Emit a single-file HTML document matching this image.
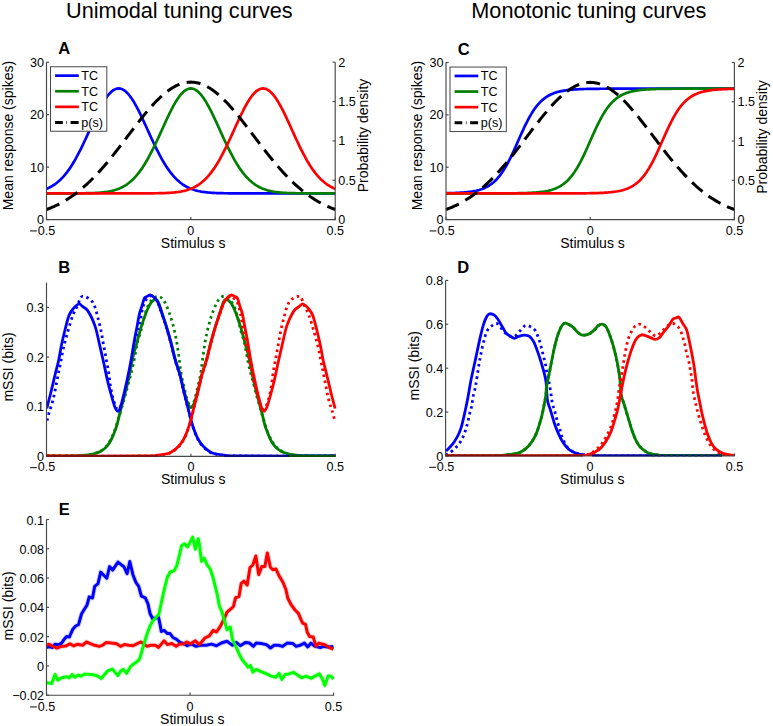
<!DOCTYPE html>
<html><head><meta charset="utf-8"><style>
html,body{margin:0;padding:0;background:#fff;}
svg{display:block;font-family:"Liberation Sans", sans-serif;}
</style></head><body>
<svg width="773" height="726" viewBox="0 0 773 726">
<defs><clipPath id="cB"><rect x="46.5" y="278.6" width="292.8" height="177.7"/></clipPath><clipPath id="cD"><rect x="445.6" y="276.4" width="292.9" height="179.6"/></clipPath><clipPath id="cE"><rect x="46.5" y="515.5" width="291.1" height="179.7"/></clipPath></defs>
<rect width="773" height="726" fill="#fff"/>
<text x="179.4" y="17.6" font-size="21.7" text-anchor="middle" font-weight="normal" fill="#000">Unimodal tuning curves</text>
<text x="588.8" y="17.6" font-size="21.7" text-anchor="middle" font-weight="normal" fill="#000">Monotonic tuning curves</text>
<path d="M46.5,188.76 L47.94,188.15 L49.39,187.48 L50.83,186.73 L52.27,185.92 L53.72,185.02 L55.16,184.04 L56.6,182.96 L58.05,181.8 L59.49,180.53 L60.93,179.17 L62.38,177.69 L63.82,176.11 L65.27,174.41 L66.71,172.6 L68.15,170.67 L69.6,168.63 L71.04,166.47 L72.48,164.19 L73.93,161.8 L75.37,159.3 L76.81,156.69 L78.26,153.98 L79.7,151.18 L81.14,148.29 L82.59,145.32 L84.03,142.29 L85.47,139.2 L86.92,136.07 L88.36,132.9 L89.81,129.72 L91.25,126.54 L92.69,123.38 L94.14,120.25 L95.58,117.17 L97.02,114.16 L98.47,111.23 L99.91,108.42 L101.35,105.72 L102.8,103.16 L104.24,100.76 L105.68,98.54 L107.13,96.5 L108.57,94.67 L110.01,93.05 L111.46,91.66 L112.9,90.51 L114.34,89.61 L115.79,88.96 L117.23,88.56 L118.67,88.43 L120.12,88.56 L121.56,88.96 L123.01,89.61 L124.45,90.51 L125.89,91.66 L127.34,93.05 L128.78,94.67 L130.22,96.5 L131.67,98.54 L133.11,100.76 L134.55,103.16 L136,105.72 L137.44,108.42 L138.88,111.23 L140.33,114.16 L141.77,117.17 L143.21,120.25 L144.66,123.38 L146.1,126.54 L147.54,129.72 L148.99,132.9 L150.43,136.07 L151.88,139.2 L153.32,142.29 L154.76,145.32 L156.21,148.29 L157.65,151.18 L159.09,153.98 L160.54,156.69 L161.98,159.3 L163.42,161.8 L164.87,164.19 L166.31,166.47 L167.75,168.63 L169.2,170.67 L170.64,172.6 L172.08,174.41 L173.53,176.11 L174.97,177.69 L176.41,179.17 L177.86,180.53 L179.3,181.8 L180.75,182.96 L182.19,184.04 L183.63,185.02 L185.08,185.92 L186.52,186.73 L187.96,187.48 L189.41,188.15 L190.85,188.76 L192.29,189.3 L193.74,189.79 L195.18,190.23 L196.62,190.63 L198.07,190.97 L199.51,191.28 L200.95,191.56 L202.4,191.8 L203.84,192.01 L205.28,192.2 L206.73,192.36 L208.17,192.51 L209.62,192.63 L211.06,192.74 L212.5,192.83 L213.95,192.91 L215.39,192.98 L216.83,193.04 L218.28,193.09 L219.72,193.14 L221.16,193.17 L222.61,193.21 L224.05,193.23 L225.49,193.25 L226.94,193.27 L228.38,193.29 L229.82,193.3 L231.27,193.31 L232.71,193.32 L234.16,193.33 L235.6,193.34 L237.04,193.34 L238.49,193.35 L239.93,193.35 L241.37,193.35 L242.82,193.36 L244.26,193.36 L245.7,193.36 L247.15,193.36 L248.59,193.36 L250.03,193.36 L251.48,193.36 L252.92,193.36 L254.36,193.36 L255.81,193.37 L257.25,193.37 L258.69,193.37 L260.14,193.37 L261.58,193.37 L263.02,193.37 L264.47,193.37 L265.91,193.37 L267.36,193.37 L268.8,193.37 L270.24,193.37 L271.69,193.37 L273.13,193.37 L274.57,193.37 L276.02,193.37 L277.46,193.37 L278.9,193.37 L280.35,193.37 L281.79,193.37 L283.23,193.37 L284.68,193.37 L286.12,193.37 L287.56,193.37 L289.01,193.37 L290.45,193.37 L291.89,193.37 L293.34,193.37 L294.78,193.37 L296.23,193.37 L297.67,193.37 L299.11,193.37 L300.56,193.37 L302,193.37 L303.44,193.37 L304.89,193.37 L306.33,193.37 L307.77,193.37 L309.22,193.37 L310.66,193.37 L312.1,193.37 L313.55,193.37 L314.99,193.37 L316.43,193.37 L317.88,193.37 L319.32,193.37 L320.76,193.37 L322.21,193.37 L323.65,193.37 L325.1,193.37 L326.54,193.37 L327.98,193.37 L329.43,193.37 L330.87,193.37 L332.31,193.37 L333.76,193.37 L335.2,193.37" fill="none" stroke="#0000ff" stroke-width="2.7" stroke-linecap="butt" stroke-linejoin="round"/>
<path d="M46.5,193.37 L47.94,193.37 L49.39,193.37 L50.83,193.37 L52.27,193.37 L53.72,193.37 L55.16,193.36 L56.6,193.36 L58.05,193.36 L59.49,193.36 L60.93,193.36 L62.38,193.36 L63.82,193.36 L65.27,193.36 L66.71,193.36 L68.15,193.35 L69.6,193.35 L71.04,193.35 L72.48,193.34 L73.93,193.34 L75.37,193.33 L76.81,193.32 L78.26,193.31 L79.7,193.3 L81.14,193.29 L82.59,193.27 L84.03,193.25 L85.47,193.23 L86.92,193.21 L88.36,193.17 L89.81,193.14 L91.25,193.09 L92.69,193.04 L94.14,192.98 L95.58,192.91 L97.02,192.83 L98.47,192.74 L99.91,192.63 L101.35,192.51 L102.8,192.36 L104.24,192.2 L105.68,192.01 L107.13,191.8 L108.57,191.56 L110.01,191.28 L111.46,190.97 L112.9,190.63 L114.34,190.23 L115.79,189.79 L117.23,189.3 L118.67,188.76 L120.12,188.15 L121.56,187.48 L123.01,186.73 L124.45,185.92 L125.89,185.02 L127.34,184.04 L128.78,182.96 L130.22,181.8 L131.67,180.53 L133.11,179.17 L134.55,177.69 L136,176.11 L137.44,174.41 L138.88,172.6 L140.33,170.67 L141.77,168.63 L143.21,166.47 L144.66,164.19 L146.1,161.8 L147.54,159.3 L148.99,156.69 L150.43,153.98 L151.88,151.18 L153.32,148.29 L154.76,145.32 L156.21,142.29 L157.65,139.2 L159.09,136.07 L160.54,132.9 L161.98,129.72 L163.42,126.54 L164.87,123.38 L166.31,120.25 L167.75,117.17 L169.2,114.16 L170.64,111.23 L172.08,108.42 L173.53,105.72 L174.97,103.16 L176.41,100.76 L177.86,98.54 L179.3,96.5 L180.75,94.67 L182.19,93.05 L183.63,91.66 L185.08,90.51 L186.52,89.61 L187.96,88.96 L189.41,88.56 L190.85,88.43 L192.29,88.56 L193.74,88.96 L195.18,89.61 L196.62,90.51 L198.07,91.66 L199.51,93.05 L200.95,94.67 L202.4,96.5 L203.84,98.54 L205.28,100.76 L206.73,103.16 L208.17,105.72 L209.62,108.42 L211.06,111.23 L212.5,114.16 L213.95,117.17 L215.39,120.25 L216.83,123.38 L218.28,126.54 L219.72,129.72 L221.16,132.9 L222.61,136.07 L224.05,139.2 L225.49,142.29 L226.94,145.32 L228.38,148.29 L229.82,151.18 L231.27,153.98 L232.71,156.69 L234.16,159.3 L235.6,161.8 L237.04,164.19 L238.49,166.47 L239.93,168.63 L241.37,170.67 L242.82,172.6 L244.26,174.41 L245.7,176.11 L247.15,177.69 L248.59,179.17 L250.03,180.53 L251.48,181.8 L252.92,182.96 L254.36,184.04 L255.81,185.02 L257.25,185.92 L258.69,186.73 L260.14,187.48 L261.58,188.15 L263.02,188.76 L264.47,189.3 L265.91,189.79 L267.36,190.23 L268.8,190.63 L270.24,190.97 L271.69,191.28 L273.13,191.56 L274.57,191.8 L276.02,192.01 L277.46,192.2 L278.9,192.36 L280.35,192.51 L281.79,192.63 L283.23,192.74 L284.68,192.83 L286.12,192.91 L287.56,192.98 L289.01,193.04 L290.45,193.09 L291.89,193.14 L293.34,193.17 L294.78,193.21 L296.23,193.23 L297.67,193.25 L299.11,193.27 L300.56,193.29 L302,193.3 L303.44,193.31 L304.89,193.32 L306.33,193.33 L307.77,193.34 L309.22,193.34 L310.66,193.35 L312.1,193.35 L313.55,193.35 L314.99,193.36 L316.43,193.36 L317.88,193.36 L319.32,193.36 L320.76,193.36 L322.21,193.36 L323.65,193.36 L325.1,193.36 L326.54,193.36 L327.98,193.37 L329.43,193.37 L330.87,193.37 L332.31,193.37 L333.76,193.37 L335.2,193.37" fill="none" stroke="#007f00" stroke-width="2.7" stroke-linecap="butt" stroke-linejoin="round"/>
<path d="M46.5,193.37 L47.94,193.37 L49.39,193.37 L50.83,193.37 L52.27,193.37 L53.72,193.37 L55.16,193.37 L56.6,193.37 L58.05,193.37 L59.49,193.37 L60.93,193.37 L62.38,193.37 L63.82,193.37 L65.27,193.37 L66.71,193.37 L68.15,193.37 L69.6,193.37 L71.04,193.37 L72.48,193.37 L73.93,193.37 L75.37,193.37 L76.81,193.37 L78.26,193.37 L79.7,193.37 L81.14,193.37 L82.59,193.37 L84.03,193.37 L85.47,193.37 L86.92,193.37 L88.36,193.37 L89.81,193.37 L91.25,193.37 L92.69,193.37 L94.14,193.37 L95.58,193.37 L97.02,193.37 L98.47,193.37 L99.91,193.37 L101.35,193.37 L102.8,193.37 L104.24,193.37 L105.68,193.37 L107.13,193.37 L108.57,193.37 L110.01,193.37 L111.46,193.37 L112.9,193.37 L114.34,193.37 L115.79,193.37 L117.23,193.37 L118.67,193.37 L120.12,193.37 L121.56,193.37 L123.01,193.37 L124.45,193.37 L125.89,193.37 L127.34,193.36 L128.78,193.36 L130.22,193.36 L131.67,193.36 L133.11,193.36 L134.55,193.36 L136,193.36 L137.44,193.36 L138.88,193.36 L140.33,193.35 L141.77,193.35 L143.21,193.35 L144.66,193.34 L146.1,193.34 L147.54,193.33 L148.99,193.32 L150.43,193.31 L151.88,193.3 L153.32,193.29 L154.76,193.27 L156.21,193.25 L157.65,193.23 L159.09,193.21 L160.54,193.17 L161.98,193.14 L163.42,193.09 L164.87,193.04 L166.31,192.98 L167.75,192.91 L169.2,192.83 L170.64,192.74 L172.08,192.63 L173.53,192.51 L174.97,192.36 L176.41,192.2 L177.86,192.01 L179.3,191.8 L180.75,191.56 L182.19,191.28 L183.63,190.97 L185.08,190.63 L186.52,190.23 L187.96,189.79 L189.41,189.3 L190.85,188.76 L192.29,188.15 L193.74,187.48 L195.18,186.73 L196.62,185.92 L198.07,185.02 L199.51,184.04 L200.95,182.96 L202.4,181.8 L203.84,180.53 L205.28,179.17 L206.73,177.69 L208.17,176.11 L209.62,174.41 L211.06,172.6 L212.5,170.67 L213.95,168.63 L215.39,166.47 L216.83,164.19 L218.28,161.8 L219.72,159.3 L221.16,156.69 L222.61,153.98 L224.05,151.18 L225.49,148.29 L226.94,145.32 L228.38,142.29 L229.82,139.2 L231.27,136.07 L232.71,132.9 L234.16,129.72 L235.6,126.54 L237.04,123.38 L238.49,120.25 L239.93,117.17 L241.37,114.16 L242.82,111.23 L244.26,108.42 L245.7,105.72 L247.15,103.16 L248.59,100.76 L250.03,98.54 L251.48,96.5 L252.92,94.67 L254.36,93.05 L255.81,91.66 L257.25,90.51 L258.69,89.61 L260.14,88.96 L261.58,88.56 L263.02,88.43 L264.47,88.56 L265.91,88.96 L267.36,89.61 L268.8,90.51 L270.24,91.66 L271.69,93.05 L273.13,94.67 L274.57,96.5 L276.02,98.54 L277.46,100.76 L278.9,103.16 L280.35,105.72 L281.79,108.42 L283.23,111.23 L284.68,114.16 L286.12,117.17 L287.56,120.25 L289.01,123.38 L290.45,126.54 L291.89,129.72 L293.34,132.9 L294.78,136.07 L296.23,139.2 L297.67,142.29 L299.11,145.32 L300.56,148.29 L302,151.18 L303.44,153.98 L304.89,156.69 L306.33,159.3 L307.77,161.8 L309.22,164.19 L310.66,166.47 L312.1,168.63 L313.55,170.67 L314.99,172.6 L316.43,174.41 L317.88,176.11 L319.32,177.69 L320.76,179.17 L322.21,180.53 L323.65,181.8 L325.1,182.96 L326.54,184.04 L327.98,185.02 L329.43,185.92 L330.87,186.73 L332.31,187.48 L333.76,188.15 L335.2,188.76" fill="none" stroke="#ff0000" stroke-width="2.7" stroke-linecap="butt" stroke-linejoin="round"/>
<path d="M46.5,209.52 L47.94,208.99 L49.39,208.43 L50.83,207.84 L52.27,207.23 L53.72,206.6 L55.16,205.94 L56.6,205.26 L58.05,204.55 L59.49,203.81 L60.93,203.05 L62.38,202.25 L63.82,201.43 L65.27,200.58 L66.71,199.7 L68.15,198.79 L69.6,197.85 L71.04,196.88 L72.48,195.88 L73.93,194.85 L75.37,193.79 L76.81,192.69 L78.26,191.56 L79.7,190.4 L81.14,189.21 L82.59,187.99 L84.03,186.73 L85.47,185.45 L86.92,184.13 L88.36,182.78 L89.81,181.4 L91.25,179.98 L92.69,178.54 L94.14,177.06 L95.58,175.56 L97.02,174.02 L98.47,172.46 L99.91,170.87 L101.35,169.25 L102.8,167.61 L104.24,165.94 L105.68,164.24 L107.13,162.52 L108.57,160.78 L110.01,159.02 L111.46,157.24 L112.9,155.43 L114.34,153.61 L115.79,151.78 L117.23,149.93 L118.67,148.07 L120.12,146.19 L121.56,144.31 L123.01,142.41 L124.45,140.51 L125.89,138.61 L127.34,136.7 L128.78,134.8 L130.22,132.89 L131.67,130.99 L133.11,129.1 L134.55,127.21 L136,125.33 L137.44,123.46 L138.88,121.61 L140.33,119.78 L141.77,117.96 L143.21,116.17 L144.66,114.39 L146.1,112.65 L147.54,110.93 L148.99,109.24 L150.43,107.58 L151.88,105.96 L153.32,104.38 L154.76,102.83 L156.21,101.33 L157.65,99.86 L159.09,98.45 L160.54,97.08 L161.98,95.76 L163.42,94.49 L164.87,93.27 L166.31,92.11 L167.75,91.01 L169.2,89.96 L170.64,88.98 L172.08,88.05 L173.53,87.19 L174.97,86.39 L176.41,85.66 L177.86,84.99 L179.3,84.39 L180.75,83.86 L182.19,83.4 L183.63,83.01 L185.08,82.68 L186.52,82.43 L187.96,82.25 L189.41,82.15 L190.85,82.11 L192.29,82.15 L193.74,82.25 L195.18,82.43 L196.62,82.68 L198.07,83.01 L199.51,83.4 L200.95,83.86 L202.4,84.39 L203.84,84.99 L205.28,85.66 L206.73,86.39 L208.17,87.19 L209.62,88.05 L211.06,88.98 L212.5,89.96 L213.95,91.01 L215.39,92.11 L216.83,93.27 L218.28,94.49 L219.72,95.76 L221.16,97.08 L222.61,98.45 L224.05,99.86 L225.49,101.33 L226.94,102.83 L228.38,104.38 L229.82,105.96 L231.27,107.58 L232.71,109.24 L234.16,110.93 L235.6,112.65 L237.04,114.39 L238.49,116.17 L239.93,117.96 L241.37,119.78 L242.82,121.61 L244.26,123.46 L245.7,125.33 L247.15,127.21 L248.59,129.1 L250.03,130.99 L251.48,132.89 L252.92,134.8 L254.36,136.7 L255.81,138.61 L257.25,140.51 L258.69,142.41 L260.14,144.31 L261.58,146.19 L263.02,148.07 L264.47,149.93 L265.91,151.78 L267.36,153.61 L268.8,155.43 L270.24,157.24 L271.69,159.02 L273.13,160.78 L274.57,162.52 L276.02,164.24 L277.46,165.94 L278.9,167.61 L280.35,169.25 L281.79,170.87 L283.23,172.46 L284.68,174.02 L286.12,175.56 L287.56,177.06 L289.01,178.54 L290.45,179.98 L291.89,181.4 L293.34,182.78 L294.78,184.13 L296.23,185.45 L297.67,186.73 L299.11,187.99 L300.56,189.21 L302,190.4 L303.44,191.56 L304.89,192.69 L306.33,193.79 L307.77,194.85 L309.22,195.88 L310.66,196.88 L312.1,197.85 L313.55,198.79 L314.99,199.7 L316.43,200.58 L317.88,201.43 L319.32,202.25 L320.76,203.05 L322.21,203.81 L323.65,204.55 L325.1,205.26 L326.54,205.94 L327.98,206.6 L329.43,207.23 L330.87,207.84 L332.31,208.43 L333.76,208.99 L335.2,209.52" fill="none" stroke="#000" stroke-width="3.0" stroke-linecap="butt" stroke-linejoin="round" stroke-dasharray="14 7.4"/>
<path d="M446,193.21 L447.44,193.19 L448.88,193.16 L450.33,193.12 L451.77,193.08 L453.21,193.04 L454.65,192.99 L456.09,192.93 L457.54,192.87 L458.98,192.8 L460.42,192.72 L461.86,192.62 L463.3,192.52 L464.75,192.4 L466.19,192.27 L467.63,192.11 L469.07,191.94 L470.51,191.75 L471.96,191.53 L473.4,191.29 L474.84,191.01 L476.28,190.7 L477.72,190.35 L479.17,189.95 L480.61,189.51 L482.05,189.01 L483.49,188.45 L484.93,187.82 L486.38,187.12 L487.82,186.34 L489.26,185.47 L490.7,184.5 L492.14,183.43 L493.59,182.24 L495.03,180.93 L496.47,179.49 L497.91,177.91 L499.35,176.19 L500.8,174.31 L502.24,172.28 L503.68,170.09 L505.12,167.75 L506.56,165.25 L508.01,162.6 L509.45,159.82 L510.89,156.9 L512.33,153.88 L513.77,150.76 L515.22,147.56 L516.66,144.32 L518.1,141.05 L519.54,137.78 L520.98,134.54 L522.43,131.34 L523.87,128.22 L525.31,125.2 L526.75,122.28 L528.19,119.5 L529.64,116.85 L531.08,114.35 L532.52,112.01 L533.96,109.82 L535.4,107.79 L536.85,105.91 L538.29,104.19 L539.73,102.61 L541.17,101.17 L542.61,99.86 L544.06,98.67 L545.5,97.6 L546.94,96.63 L548.38,95.76 L549.82,94.98 L551.27,94.28 L552.71,93.65 L554.15,93.09 L555.59,92.59 L557.03,92.15 L558.48,91.75 L559.92,91.4 L561.36,91.09 L562.8,90.81 L564.24,90.57 L565.69,90.35 L567.13,90.16 L568.57,89.99 L570.01,89.83 L571.45,89.7 L572.9,89.58 L574.34,89.48 L575.78,89.38 L577.22,89.3 L578.66,89.23 L580.11,89.17 L581.55,89.11 L582.99,89.06 L584.43,89.02 L585.87,88.98 L587.32,88.94 L588.76,88.91 L590.2,88.89 L591.64,88.86 L593.08,88.84 L594.53,88.82 L595.97,88.81 L597.41,88.79 L598.85,88.78 L600.29,88.77 L601.74,88.76 L603.18,88.75 L604.62,88.74 L606.06,88.73 L607.5,88.73 L608.95,88.72 L610.39,88.72 L611.83,88.71 L613.27,88.71 L614.71,88.71 L616.16,88.7 L617.6,88.7 L619.04,88.7 L620.48,88.7 L621.92,88.7 L623.37,88.69 L624.81,88.69 L626.25,88.69 L627.69,88.69 L629.13,88.69 L630.58,88.69 L632.02,88.69 L633.46,88.69 L634.9,88.69 L636.34,88.69 L637.79,88.69 L639.23,88.69 L640.67,88.69 L642.11,88.69 L643.55,88.69 L645,88.69 L646.44,88.68 L647.88,88.68 L649.32,88.68 L650.76,88.68 L652.21,88.68 L653.65,88.68 L655.09,88.68 L656.53,88.68 L657.97,88.68 L659.42,88.68 L660.86,88.68 L662.3,88.68 L663.74,88.68 L665.18,88.68 L666.63,88.68 L668.07,88.68 L669.51,88.68 L670.95,88.68 L672.39,88.68 L673.84,88.68 L675.28,88.68 L676.72,88.68 L678.16,88.68 L679.6,88.68 L681.05,88.68 L682.49,88.68 L683.93,88.68 L685.37,88.68 L686.81,88.68 L688.26,88.68 L689.7,88.68 L691.14,88.68 L692.58,88.68 L694.02,88.68 L695.47,88.68 L696.91,88.68 L698.35,88.68 L699.79,88.68 L701.23,88.68 L702.68,88.68 L704.12,88.68 L705.56,88.68 L707,88.68 L708.44,88.68 L709.89,88.68 L711.33,88.68 L712.77,88.68 L714.21,88.68 L715.65,88.68 L717.1,88.68 L718.54,88.68 L719.98,88.68 L721.42,88.68 L722.86,88.68 L724.31,88.68 L725.75,88.68 L727.19,88.68 L728.63,88.68 L730.07,88.68 L731.52,88.68 L732.96,88.68 L734.4,88.68" fill="none" stroke="#0000ff" stroke-width="2.7" stroke-linecap="butt" stroke-linejoin="round"/>
<path d="M446,193.42 L447.44,193.42 L448.88,193.42 L450.33,193.42 L451.77,193.42 L453.21,193.42 L454.65,193.42 L456.09,193.42 L457.54,193.42 L458.98,193.42 L460.42,193.42 L461.86,193.42 L463.3,193.41 L464.75,193.41 L466.19,193.41 L467.63,193.41 L469.07,193.41 L470.51,193.41 L471.96,193.41 L473.4,193.41 L474.84,193.41 L476.28,193.41 L477.72,193.41 L479.17,193.41 L480.61,193.41 L482.05,193.41 L483.49,193.41 L484.93,193.41 L486.38,193.4 L487.82,193.4 L489.26,193.4 L490.7,193.4 L492.14,193.4 L493.59,193.39 L495.03,193.39 L496.47,193.39 L497.91,193.38 L499.35,193.38 L500.8,193.37 L502.24,193.37 L503.68,193.36 L505.12,193.35 L506.56,193.34 L508.01,193.33 L509.45,193.32 L510.89,193.31 L512.33,193.29 L513.77,193.28 L515.22,193.26 L516.66,193.24 L518.1,193.21 L519.54,193.19 L520.98,193.16 L522.43,193.12 L523.87,193.08 L525.31,193.04 L526.75,192.99 L528.19,192.93 L529.64,192.87 L531.08,192.8 L532.52,192.72 L533.96,192.62 L535.4,192.52 L536.85,192.4 L538.29,192.27 L539.73,192.11 L541.17,191.94 L542.61,191.75 L544.06,191.53 L545.5,191.29 L546.94,191.01 L548.38,190.7 L549.82,190.35 L551.27,189.95 L552.71,189.51 L554.15,189.01 L555.59,188.45 L557.03,187.82 L558.48,187.12 L559.92,186.34 L561.36,185.47 L562.8,184.5 L564.24,183.43 L565.69,182.24 L567.13,180.93 L568.57,179.49 L570.01,177.91 L571.45,176.19 L572.9,174.31 L574.34,172.28 L575.78,170.09 L577.22,167.75 L578.66,165.25 L580.11,162.6 L581.55,159.82 L582.99,156.9 L584.43,153.88 L585.87,150.76 L587.32,147.56 L588.76,144.32 L590.2,141.05 L591.64,137.78 L593.08,134.54 L594.53,131.34 L595.97,128.22 L597.41,125.2 L598.85,122.28 L600.29,119.5 L601.74,116.85 L603.18,114.35 L604.62,112.01 L606.06,109.82 L607.5,107.79 L608.95,105.91 L610.39,104.19 L611.83,102.61 L613.27,101.17 L614.71,99.86 L616.16,98.67 L617.6,97.6 L619.04,96.63 L620.48,95.76 L621.92,94.98 L623.37,94.28 L624.81,93.65 L626.25,93.09 L627.69,92.59 L629.13,92.15 L630.58,91.75 L632.02,91.4 L633.46,91.09 L634.9,90.81 L636.34,90.57 L637.79,90.35 L639.23,90.16 L640.67,89.99 L642.11,89.83 L643.55,89.7 L645,89.58 L646.44,89.48 L647.88,89.38 L649.32,89.3 L650.76,89.23 L652.21,89.17 L653.65,89.11 L655.09,89.06 L656.53,89.02 L657.97,88.98 L659.42,88.94 L660.86,88.91 L662.3,88.89 L663.74,88.86 L665.18,88.84 L666.63,88.82 L668.07,88.81 L669.51,88.79 L670.95,88.78 L672.39,88.77 L673.84,88.76 L675.28,88.75 L676.72,88.74 L678.16,88.73 L679.6,88.73 L681.05,88.72 L682.49,88.72 L683.93,88.71 L685.37,88.71 L686.81,88.71 L688.26,88.7 L689.7,88.7 L691.14,88.7 L692.58,88.7 L694.02,88.7 L695.47,88.69 L696.91,88.69 L698.35,88.69 L699.79,88.69 L701.23,88.69 L702.68,88.69 L704.12,88.69 L705.56,88.69 L707,88.69 L708.44,88.69 L709.89,88.69 L711.33,88.69 L712.77,88.69 L714.21,88.69 L715.65,88.69 L717.1,88.69 L718.54,88.68 L719.98,88.68 L721.42,88.68 L722.86,88.68 L724.31,88.68 L725.75,88.68 L727.19,88.68 L728.63,88.68 L730.07,88.68 L731.52,88.68 L732.96,88.68 L734.4,88.68" fill="none" stroke="#007f00" stroke-width="2.7" stroke-linecap="butt" stroke-linejoin="round"/>
<path d="M446,193.42 L447.44,193.42 L448.88,193.42 L450.33,193.42 L451.77,193.42 L453.21,193.42 L454.65,193.42 L456.09,193.42 L457.54,193.42 L458.98,193.42 L460.42,193.42 L461.86,193.42 L463.3,193.42 L464.75,193.42 L466.19,193.42 L467.63,193.42 L469.07,193.42 L470.51,193.42 L471.96,193.42 L473.4,193.42 L474.84,193.42 L476.28,193.42 L477.72,193.42 L479.17,193.42 L480.61,193.42 L482.05,193.42 L483.49,193.42 L484.93,193.42 L486.38,193.42 L487.82,193.42 L489.26,193.42 L490.7,193.42 L492.14,193.42 L493.59,193.42 L495.03,193.42 L496.47,193.42 L497.91,193.42 L499.35,193.42 L500.8,193.42 L502.24,193.42 L503.68,193.42 L505.12,193.42 L506.56,193.42 L508.01,193.42 L509.45,193.42 L510.89,193.42 L512.33,193.42 L513.77,193.42 L515.22,193.42 L516.66,193.42 L518.1,193.42 L519.54,193.42 L520.98,193.42 L522.43,193.42 L523.87,193.42 L525.31,193.42 L526.75,193.42 L528.19,193.42 L529.64,193.42 L531.08,193.42 L532.52,193.42 L533.96,193.42 L535.4,193.41 L536.85,193.41 L538.29,193.41 L539.73,193.41 L541.17,193.41 L542.61,193.41 L544.06,193.41 L545.5,193.41 L546.94,193.41 L548.38,193.41 L549.82,193.41 L551.27,193.41 L552.71,193.41 L554.15,193.41 L555.59,193.41 L557.03,193.41 L558.48,193.4 L559.92,193.4 L561.36,193.4 L562.8,193.4 L564.24,193.4 L565.69,193.39 L567.13,193.39 L568.57,193.39 L570.01,193.38 L571.45,193.38 L572.9,193.37 L574.34,193.37 L575.78,193.36 L577.22,193.35 L578.66,193.34 L580.11,193.33 L581.55,193.32 L582.99,193.31 L584.43,193.29 L585.87,193.28 L587.32,193.26 L588.76,193.24 L590.2,193.21 L591.64,193.19 L593.08,193.16 L594.53,193.12 L595.97,193.08 L597.41,193.04 L598.85,192.99 L600.29,192.93 L601.74,192.87 L603.18,192.8 L604.62,192.72 L606.06,192.62 L607.5,192.52 L608.95,192.4 L610.39,192.27 L611.83,192.11 L613.27,191.94 L614.71,191.75 L616.16,191.53 L617.6,191.29 L619.04,191.01 L620.48,190.7 L621.92,190.35 L623.37,189.95 L624.81,189.51 L626.25,189.01 L627.69,188.45 L629.13,187.82 L630.58,187.12 L632.02,186.34 L633.46,185.47 L634.9,184.5 L636.34,183.43 L637.79,182.24 L639.23,180.93 L640.67,179.49 L642.11,177.91 L643.55,176.19 L645,174.31 L646.44,172.28 L647.88,170.09 L649.32,167.75 L650.76,165.25 L652.21,162.6 L653.65,159.82 L655.09,156.9 L656.53,153.88 L657.97,150.76 L659.42,147.56 L660.86,144.32 L662.3,141.05 L663.74,137.78 L665.18,134.54 L666.63,131.34 L668.07,128.22 L669.51,125.2 L670.95,122.28 L672.39,119.5 L673.84,116.85 L675.28,114.35 L676.72,112.01 L678.16,109.82 L679.6,107.79 L681.05,105.91 L682.49,104.19 L683.93,102.61 L685.37,101.17 L686.81,99.86 L688.26,98.67 L689.7,97.6 L691.14,96.63 L692.58,95.76 L694.02,94.98 L695.47,94.28 L696.91,93.65 L698.35,93.09 L699.79,92.59 L701.23,92.15 L702.68,91.75 L704.12,91.4 L705.56,91.09 L707,90.81 L708.44,90.57 L709.89,90.35 L711.33,90.16 L712.77,89.99 L714.21,89.83 L715.65,89.7 L717.1,89.58 L718.54,89.48 L719.98,89.38 L721.42,89.3 L722.86,89.23 L724.31,89.17 L725.75,89.11 L727.19,89.06 L728.63,89.02 L730.07,88.98 L731.52,88.94 L732.96,88.91 L734.4,88.89" fill="none" stroke="#ff0000" stroke-width="2.7" stroke-linecap="butt" stroke-linejoin="round"/>
<path d="M446,209.54 L447.44,209.01 L448.88,208.45 L450.33,207.86 L451.77,207.26 L453.21,206.63 L454.65,205.97 L456.09,205.29 L457.54,204.58 L458.98,203.84 L460.42,203.08 L461.86,202.29 L463.3,201.47 L464.75,200.62 L466.19,199.74 L467.63,198.83 L469.07,197.89 L470.51,196.93 L471.96,195.93 L473.4,194.9 L474.84,193.83 L476.28,192.74 L477.72,191.62 L479.17,190.46 L480.61,189.27 L482.05,188.05 L483.49,186.8 L484.93,185.51 L486.38,184.2 L487.82,182.85 L489.26,181.47 L490.7,180.06 L492.14,178.62 L493.59,177.14 L495.03,175.64 L496.47,174.11 L497.91,172.55 L499.35,170.96 L500.8,169.35 L502.24,167.71 L503.68,166.04 L505.12,164.35 L506.56,162.63 L508.01,160.89 L509.45,159.14 L510.89,157.36 L512.33,155.56 L513.77,153.74 L515.22,151.91 L516.66,150.06 L518.1,148.2 L519.54,146.33 L520.98,144.45 L522.43,142.56 L523.87,140.66 L525.31,138.76 L526.75,136.86 L528.19,134.96 L529.64,133.06 L531.08,131.16 L532.52,129.27 L533.96,127.38 L535.4,125.51 L536.85,123.65 L538.29,121.8 L539.73,119.97 L541.17,118.15 L542.61,116.36 L544.06,114.59 L545.5,112.85 L546.94,111.14 L548.38,109.45 L549.82,107.8 L551.27,106.18 L552.71,104.6 L554.15,103.05 L555.59,101.55 L557.03,100.09 L558.48,98.68 L559.92,97.31 L561.36,95.99 L562.8,94.73 L564.24,93.51 L565.69,92.36 L567.13,91.25 L568.57,90.21 L570.01,89.23 L571.45,88.3 L572.9,87.44 L574.34,86.64 L575.78,85.91 L577.22,85.25 L578.66,84.65 L580.11,84.12 L581.55,83.66 L582.99,83.27 L584.43,82.95 L585.87,82.7 L587.32,82.52 L588.76,82.41 L590.2,82.37 L591.64,82.41 L593.08,82.52 L594.53,82.7 L595.97,82.95 L597.41,83.27 L598.85,83.66 L600.29,84.12 L601.74,84.65 L603.18,85.25 L604.62,85.91 L606.06,86.64 L607.5,87.44 L608.95,88.3 L610.39,89.23 L611.83,90.21 L613.27,91.25 L614.71,92.36 L616.16,93.51 L617.6,94.73 L619.04,95.99 L620.48,97.31 L621.92,98.68 L623.37,100.09 L624.81,101.55 L626.25,103.05 L627.69,104.6 L629.13,106.18 L630.58,107.8 L632.02,109.45 L633.46,111.14 L634.9,112.85 L636.34,114.59 L637.79,116.36 L639.23,118.15 L640.67,119.97 L642.11,121.8 L643.55,123.65 L645,125.51 L646.44,127.38 L647.88,129.27 L649.32,131.16 L650.76,133.06 L652.21,134.96 L653.65,136.86 L655.09,138.76 L656.53,140.66 L657.97,142.56 L659.42,144.45 L660.86,146.33 L662.3,148.2 L663.74,150.06 L665.18,151.91 L666.63,153.74 L668.07,155.56 L669.51,157.36 L670.95,159.14 L672.39,160.89 L673.84,162.63 L675.28,164.35 L676.72,166.04 L678.16,167.71 L679.6,169.35 L681.05,170.96 L682.49,172.55 L683.93,174.11 L685.37,175.64 L686.81,177.14 L688.26,178.62 L689.7,180.06 L691.14,181.47 L692.58,182.85 L694.02,184.2 L695.47,185.51 L696.91,186.8 L698.35,188.05 L699.79,189.27 L701.23,190.46 L702.68,191.62 L704.12,192.74 L705.56,193.83 L707,194.9 L708.44,195.93 L709.89,196.93 L711.33,197.89 L712.77,198.83 L714.21,199.74 L715.65,200.62 L717.1,201.47 L718.54,202.29 L719.98,203.08 L721.42,203.84 L722.86,204.58 L724.31,205.29 L725.75,205.97 L727.19,206.63 L728.63,207.26 L730.07,207.86 L731.52,208.45 L732.96,209.01 L734.4,209.54" fill="none" stroke="#000" stroke-width="3.0" stroke-linecap="butt" stroke-linejoin="round" stroke-dasharray="14 7.4"/>
<line x1="46.5" y1="62.2" x2="46.5" y2="219.6" stroke="#474747" stroke-width="1.15"/>
<line x1="45.95" y1="219.6" x2="335.75" y2="219.6" stroke="#474747" stroke-width="1.15"/>
<line x1="335.2" y1="62.2" x2="335.2" y2="219.6" stroke="#474747" stroke-width="1.15"/>
<line x1="46.5" y1="219.6" x2="46.5" y2="217" stroke="#474747" stroke-width="1.15"/>
<line x1="190.85" y1="219.6" x2="190.85" y2="217" stroke="#474747" stroke-width="1.15"/>
<line x1="335.2" y1="219.6" x2="335.2" y2="217" stroke="#474747" stroke-width="1.15"/>
<line x1="46.5" y1="219.6" x2="49.1" y2="219.6" stroke="#474747" stroke-width="1.15"/>
<text x="44.1" y="224.2" font-size="12.6" text-anchor="end" font-weight="normal" fill="#000">0</text>
<line x1="46.5" y1="167.13" x2="49.1" y2="167.13" stroke="#474747" stroke-width="1.15"/>
<text x="44.1" y="171.73" font-size="12.6" text-anchor="end" font-weight="normal" fill="#000">10</text>
<line x1="46.5" y1="114.67" x2="49.1" y2="114.67" stroke="#474747" stroke-width="1.15"/>
<text x="44.1" y="119.27" font-size="12.6" text-anchor="end" font-weight="normal" fill="#000">20</text>
<line x1="46.5" y1="62.2" x2="49.1" y2="62.2" stroke="#474747" stroke-width="1.15"/>
<text x="44.1" y="66.8" font-size="12.6" text-anchor="end" font-weight="normal" fill="#000">30</text>
<line x1="335.2" y1="219.6" x2="332.6" y2="219.6" stroke="#474747" stroke-width="1.15"/>
<text x="338.2" y="224.1" font-size="12.6" text-anchor="start" font-weight="normal" fill="#000">0</text>
<line x1="335.2" y1="180.25" x2="332.6" y2="180.25" stroke="#474747" stroke-width="1.15"/>
<text x="338.2" y="184.75" font-size="12.6" text-anchor="start" font-weight="normal" fill="#000">0.5</text>
<line x1="335.2" y1="140.9" x2="332.6" y2="140.9" stroke="#474747" stroke-width="1.15"/>
<text x="338.2" y="145.4" font-size="12.6" text-anchor="start" font-weight="normal" fill="#000">1</text>
<line x1="335.2" y1="101.55" x2="332.6" y2="101.55" stroke="#474747" stroke-width="1.15"/>
<text x="338.2" y="106.05" font-size="12.6" text-anchor="start" font-weight="normal" fill="#000">1.5</text>
<line x1="335.2" y1="62.2" x2="332.6" y2="62.2" stroke="#474747" stroke-width="1.15"/>
<text x="338.2" y="66.7" font-size="12.6" text-anchor="start" font-weight="normal" fill="#000">2</text>
<text x="46.5" y="234.5" font-size="12.6" text-anchor="middle" font-weight="normal" fill="#000">0.5</text>
<rect x="30.14" y="230.4" width="6.7" height="1.05" fill="#111"/>
<text x="190.85" y="234.5" font-size="12.6" text-anchor="middle" font-weight="normal" fill="#000">0</text>
<text x="335.2" y="234.5" font-size="12.6" text-anchor="middle" font-weight="normal" fill="#000">0.5</text>
<text x="193.15" y="247.6" font-size="14" text-anchor="middle" font-weight="normal" fill="#000">Stimulus s</text>
<text x="12.9" y="135.6" font-size="14" text-anchor="middle" font-weight="normal" fill="#000" transform="rotate(-90 12.9 135.6)">Mean response (spikes)</text>
<text x="367.8" y="135.5" font-size="14" text-anchor="middle" font-weight="normal" fill="#000" transform="rotate(-90 367.8 135.5)">Probability density</text>
<text x="64.2" y="54.2" font-size="16.5" text-anchor="middle" font-weight="bold" fill="#000">A</text>
<rect x="50.5" y="66.75" width="56.3" height="64.5" fill="#fff" stroke="#474747" stroke-width="1"/>
<line x1="55.1" y1="75.65" x2="78.8" y2="75.65" stroke="#0000ff" stroke-width="2.7"/>
<text x="81.3" y="80.15" font-size="12.6" text-anchor="start" font-weight="normal" fill="#000">TC</text>
<line x1="55.1" y1="91.25" x2="78.8" y2="91.25" stroke="#007f00" stroke-width="2.7"/>
<text x="81.3" y="95.75" font-size="12.6" text-anchor="start" font-weight="normal" fill="#000">TC</text>
<line x1="55.1" y1="106.85" x2="78.8" y2="106.85" stroke="#ff0000" stroke-width="2.7"/>
<text x="81.3" y="111.35" font-size="12.6" text-anchor="start" font-weight="normal" fill="#000">TC</text>
<path d="M55.1,122.45 H78.8" stroke="#000" stroke-width="3" stroke-dasharray="7.7 3.6 0.6 3.6 8"/>
<text x="81.3" y="126.95" font-size="12.6" text-anchor="start" font-weight="normal" fill="#000">p(s)</text>
<line x1="446" y1="62.5" x2="446" y2="219.6" stroke="#474747" stroke-width="1.15"/>
<line x1="445.45" y1="219.6" x2="734.95" y2="219.6" stroke="#474747" stroke-width="1.15"/>
<line x1="734.4" y1="62.5" x2="734.4" y2="219.6" stroke="#474747" stroke-width="1.15"/>
<line x1="446" y1="219.6" x2="446" y2="217" stroke="#474747" stroke-width="1.15"/>
<line x1="590.2" y1="219.6" x2="590.2" y2="217" stroke="#474747" stroke-width="1.15"/>
<line x1="734.4" y1="219.6" x2="734.4" y2="217" stroke="#474747" stroke-width="1.15"/>
<line x1="446" y1="219.6" x2="448.6" y2="219.6" stroke="#474747" stroke-width="1.15"/>
<text x="443.6" y="224.2" font-size="12.6" text-anchor="end" font-weight="normal" fill="#000">0</text>
<line x1="446" y1="167.23" x2="448.6" y2="167.23" stroke="#474747" stroke-width="1.15"/>
<text x="443.6" y="171.83" font-size="12.6" text-anchor="end" font-weight="normal" fill="#000">10</text>
<line x1="446" y1="114.87" x2="448.6" y2="114.87" stroke="#474747" stroke-width="1.15"/>
<text x="443.6" y="119.47" font-size="12.6" text-anchor="end" font-weight="normal" fill="#000">20</text>
<line x1="446" y1="62.5" x2="448.6" y2="62.5" stroke="#474747" stroke-width="1.15"/>
<text x="443.6" y="67.1" font-size="12.6" text-anchor="end" font-weight="normal" fill="#000">30</text>
<line x1="734.4" y1="219.6" x2="731.8" y2="219.6" stroke="#474747" stroke-width="1.15"/>
<text x="737.4" y="224.1" font-size="12.6" text-anchor="start" font-weight="normal" fill="#000">0</text>
<line x1="734.4" y1="180.32" x2="731.8" y2="180.32" stroke="#474747" stroke-width="1.15"/>
<text x="737.4" y="184.82" font-size="12.6" text-anchor="start" font-weight="normal" fill="#000">0.5</text>
<line x1="734.4" y1="141.05" x2="731.8" y2="141.05" stroke="#474747" stroke-width="1.15"/>
<text x="737.4" y="145.55" font-size="12.6" text-anchor="start" font-weight="normal" fill="#000">1</text>
<line x1="734.4" y1="101.78" x2="731.8" y2="101.78" stroke="#474747" stroke-width="1.15"/>
<text x="737.4" y="106.28" font-size="12.6" text-anchor="start" font-weight="normal" fill="#000">1.5</text>
<line x1="734.4" y1="62.5" x2="731.8" y2="62.5" stroke="#474747" stroke-width="1.15"/>
<text x="737.4" y="67" font-size="12.6" text-anchor="start" font-weight="normal" fill="#000">2</text>
<text x="446" y="234.5" font-size="12.6" text-anchor="middle" font-weight="normal" fill="#000">0.5</text>
<rect x="429.64" y="230.4" width="6.7" height="1.05" fill="#111"/>
<text x="590.2" y="234.5" font-size="12.6" text-anchor="middle" font-weight="normal" fill="#000">0</text>
<text x="734.4" y="234.5" font-size="12.6" text-anchor="middle" font-weight="normal" fill="#000">0.5</text>
<text x="592.5" y="247.6" font-size="14" text-anchor="middle" font-weight="normal" fill="#000">Stimulus s</text>
<text x="421.9" y="135.6" font-size="14" text-anchor="middle" font-weight="normal" fill="#000" transform="rotate(-90 421.9 135.6)">Mean response (spikes)</text>
<text x="767" y="137" font-size="14" text-anchor="middle" font-weight="normal" fill="#000" transform="rotate(-90 767 137)">Probability density</text>
<text x="463.7" y="54.5" font-size="16.5" text-anchor="middle" font-weight="bold" fill="#000">C</text>
<rect x="450" y="67.05" width="56.3" height="64.5" fill="#fff" stroke="#474747" stroke-width="1"/>
<line x1="454.6" y1="75.95" x2="478.3" y2="75.95" stroke="#0000ff" stroke-width="2.7"/>
<text x="480.8" y="80.45" font-size="12.6" text-anchor="start" font-weight="normal" fill="#000">TC</text>
<line x1="454.6" y1="91.55" x2="478.3" y2="91.55" stroke="#007f00" stroke-width="2.7"/>
<text x="480.8" y="96.05" font-size="12.6" text-anchor="start" font-weight="normal" fill="#000">TC</text>
<line x1="454.6" y1="107.15" x2="478.3" y2="107.15" stroke="#ff0000" stroke-width="2.7"/>
<text x="480.8" y="111.65" font-size="12.6" text-anchor="start" font-weight="normal" fill="#000">TC</text>
<path d="M454.6,122.75 H478.3" stroke="#000" stroke-width="3" stroke-dasharray="7.7 3.6 0.6 3.6 8"/>
<text x="480.8" y="127.25" font-size="12.6" text-anchor="start" font-weight="normal" fill="#000">p(s)</text>
<g clip-path="url(#cB)">
<path d="M47.1,420.6 C47.42,419.32 48,416.38 49,412.9 C50,409.42 51.78,405.02 53.1,399.7 C54.42,394.38 55.72,386.88 56.9,381 C58.08,375.12 59.1,369.93 60.2,364.4 C61.3,358.87 62.22,353.32 63.5,347.8 C64.78,342.28 66.33,336.72 67.9,331.3 C69.47,325.88 71.33,319.53 72.9,315.3 C74.47,311.07 75.97,308.9 77.3,305.9 C78.63,302.9 79.78,298.87 80.9,297.3 C82.02,295.73 82.9,296.43 84,296.5 C85.1,296.57 86.27,297.03 87.5,297.7 C88.73,298.37 90.2,299.03 91.4,300.5 C92.6,301.97 93.6,303.57 94.7,306.5 C95.8,309.43 96.93,313.98 98,318.1 C99.07,322.22 100.17,326.73 101.1,331.2 C102.03,335.67 102.77,340.35 103.6,344.9 C104.43,349.45 105.27,353.95 106.1,358.5 C106.93,363.05 107.88,367.65 108.6,372.2 C109.32,376.75 109.68,381.47 110.4,385.8 C111.12,390.13 111.97,394.68 112.9,398.2 C113.83,401.72 115.23,405.03 116,406.9 C116.77,408.77 116.75,409.47 117.5,409.4 C118.25,409.33 119.33,409.07 120.5,406.5 C121.67,403.93 123.22,398.42 124.5,394 C125.78,389.58 127.03,384.83 128.2,380 C129.37,375.17 130.32,370.55 131.5,365 C132.68,359.45 134.12,352.68 135.3,346.7 C136.48,340.72 137.58,334.6 138.6,329.1 C139.62,323.6 140.57,317.75 141.4,313.7 C142.23,309.65 142.92,307.02 143.6,304.8 C144.28,302.58 144.75,301.5 145.5,300.4 C146.25,299.3 147.27,298.93 148.1,298.2 C148.93,297.47 149.48,296.03 150.5,296 C151.52,295.97 152.95,296.83 154.2,298 C155.45,299.17 156.7,300.33 158,303 C159.3,305.67 160.6,309.92 162,314 C163.4,318.08 164.93,322.67 166.4,327.5 C167.87,332.33 169.33,337.5 170.8,343 C172.27,348.5 173.7,355.17 175.2,360.5 C176.7,365.83 178.48,370.25 179.8,375 C181.12,379.75 182.03,384.58 183.1,389 C184.17,393.42 185.22,397.58 186.2,401.5 C187.18,405.42 188.03,408.75 189,412.5 C189.97,416.25 190.95,420.5 192,424 C193.05,427.5 194.2,430.75 195.3,433.5 C196.4,436.25 197.23,438.25 198.6,440.5 C199.97,442.75 201.3,444.92 203.5,447 C205.7,449.08 208.35,451.6 211.8,453 C215.25,454.4 219.5,454.9 224.2,455.4 C228.9,455.9 221.48,455.9 240,456 C258.52,456.1 319.42,456 335.3,456" fill="none" stroke="#0000ff" stroke-width="2.8" stroke-linecap="butt" stroke-linejoin="round" stroke-dasharray="2.5 3.6"/>
<path d="M46.7,456 C53.08,455.88 76.12,456.1 85,455.3 C93.88,454.5 96.5,452.67 100,451.2 C103.5,449.73 104.25,448.37 106,446.5 C107.75,444.63 109.08,442.58 110.5,440 C111.92,437.42 113.25,434.33 114.5,431 C115.75,427.67 116.92,423.5 118,420 C119.08,416.5 119.83,414 121,410 C122.17,406 123.67,400.83 125,396 C126.33,391.17 127.65,386.17 129,381 C130.35,375.83 131.68,371.45 133.1,365 C134.52,358.55 136.22,347.92 137.5,342.3 C138.78,336.68 139.42,336.45 140.8,331.3 C142.18,326.15 144.03,316.55 145.8,311.4 C147.57,306.25 149.45,302.92 151.4,300.4 C153.35,297.88 155.67,296.57 157.5,296.3 C159.33,296.03 160.93,297.28 162.4,298.8 C163.87,300.32 164.92,302.37 166.3,305.4 C167.68,308.43 169.33,312.73 170.7,317 C172.07,321.27 173.42,326.33 174.5,331 C175.58,335.67 176.4,340.17 177.2,345 C178,349.83 178.63,355.17 179.3,360 C179.97,364.83 180.43,369.6 181.2,374 C181.97,378.4 182.93,382.2 183.9,386.4 C184.87,390.6 186.05,395.97 187,399.2 C187.95,402.43 188.95,404.47 189.6,405.8 C190.25,407.13 190.47,407.2 190.9,407.2 C191.33,407.2 191.55,407.13 192.2,405.8 C192.85,404.47 193.85,402.43 194.8,399.2 C195.75,395.97 196.93,390.6 197.9,386.4 C198.87,382.2 199.83,378.4 200.6,374 C201.37,369.6 201.83,364.83 202.5,360 C203.17,355.17 203.8,349.83 204.6,345 C205.4,340.17 206.22,335.67 207.3,331 C208.38,326.33 209.73,321.27 211.1,317 C212.47,312.73 214.12,308.43 215.5,305.4 C216.88,302.37 217.93,300.32 219.4,298.8 C220.87,297.28 222.47,296.03 224.3,296.3 C226.13,296.57 228.45,297.88 230.4,300.4 C232.35,302.92 234.23,306.25 236,311.4 C237.77,316.55 239.62,326.15 241,331.3 C242.38,336.45 243.02,336.68 244.3,342.3 C245.58,347.92 247.28,358.55 248.7,365 C250.12,371.45 251.45,375.83 252.8,381 C254.15,386.17 255.47,391.17 256.8,396 C258.13,400.83 259.63,406 260.8,410 C261.97,414 262.72,416.5 263.8,420 C264.88,423.5 266.05,427.67 267.3,431 C268.55,434.33 269.88,437.42 271.3,440 C272.72,442.58 274.05,444.63 275.8,446.5 C277.55,448.37 278.3,449.73 281.8,451.2 C285.3,452.67 287.92,454.5 296.8,455.3 C305.68,456.1 328.72,455.88 335.1,456" fill="none" stroke="#007f00" stroke-width="2.8" stroke-linecap="butt" stroke-linejoin="round" stroke-dasharray="2.5 3.6"/>
<path d="M46.7,456 C52.68,455.88 74.65,455.7 82.6,455.3 C90.55,454.9 91.37,454.28 94.4,453.6 C97.43,452.92 98.83,452.28 100.8,451.2 C102.77,450.12 104.55,448.83 106.2,447.1 C107.85,445.37 109.35,443.22 110.7,440.8 C112.05,438.38 113.23,435.32 114.3,432.6 C115.37,429.88 116.27,427.37 117.1,424.5 C117.93,421.63 118.65,417.98 119.3,415.4 C119.95,412.82 120.3,411.65 121,409 C121.7,406.35 122.27,404.4 123.5,399.5 C124.73,394.6 127.1,385.35 128.4,379.6 C129.7,373.85 130.47,369.13 131.3,365 C132.13,360.87 132.55,358.22 133.4,354.8 C134.25,351.38 135.1,349.15 136.4,344.5 C137.7,339.85 139.57,332.23 141.2,326.9 C142.83,321.57 144.78,316.18 146.2,312.5 C147.62,308.82 148.55,306.78 149.7,304.8 C150.85,302.82 151.98,301.48 153.1,300.6 C154.22,299.72 155.42,299.02 156.4,299.5 C157.38,299.98 158.02,301.13 159,303.5 C159.98,305.87 161.03,309.8 162.3,313.7 C163.57,317.6 165.15,322.13 166.6,326.9 C168.05,331.67 169.53,336.8 171,342.3 C172.47,347.8 173.92,354.57 175.4,359.9 C176.88,365.23 178.58,369.62 179.9,374.3 C181.22,378.98 182.2,383.72 183.3,388 C184.4,392.28 185.55,397 186.5,400 C187.45,403 188.27,404.73 189,406 C189.73,407.27 190.27,407.6 190.9,407.6 C191.53,407.6 192.07,407.27 192.8,406 C193.53,404.73 194.35,403 195.3,400 C196.25,397 197.4,392.28 198.5,388 C199.6,383.72 200.58,378.98 201.9,374.3 C203.22,369.62 204.92,365.23 206.4,359.9 C207.88,354.57 209.33,347.8 210.8,342.3 C212.27,336.8 213.75,331.67 215.2,326.9 C216.65,322.13 218.23,317.6 219.5,313.7 C220.77,309.8 221.82,305.87 222.8,303.5 C223.78,301.13 224.42,299.98 225.4,299.5 C226.38,299.02 227.58,299.72 228.7,300.6 C229.82,301.48 230.95,302.82 232.1,304.8 C233.25,306.78 234.18,308.82 235.6,312.5 C237.02,316.18 238.97,321.57 240.6,326.9 C242.23,332.23 244.1,339.85 245.4,344.5 C246.7,349.15 247.55,351.38 248.4,354.8 C249.25,358.22 249.67,360.87 250.5,365 C251.33,369.13 252.1,373.85 253.4,379.6 C254.7,385.35 257.07,394.6 258.3,399.5 C259.53,404.4 260.1,406.35 260.8,409 C261.5,411.65 261.85,412.82 262.5,415.4 C263.15,417.98 263.87,421.63 264.7,424.5 C265.53,427.37 266.43,429.88 267.5,432.6 C268.57,435.32 269.75,438.38 271.1,440.8 C272.45,443.22 273.95,445.37 275.6,447.1 C277.25,448.83 279.03,450.12 281,451.2 C282.97,452.28 284.37,452.92 287.4,453.6 C290.43,454.28 291.25,454.9 299.2,455.3 C307.15,455.7 329.12,455.88 335.1,456" fill="none" stroke="#007f00" stroke-width="2.8" stroke-linecap="butt" stroke-linejoin="round"/>
<path d="M46.7,408.5 C47.35,406 49.22,399.08 50.6,393.5 C51.98,387.92 53.68,380.42 55,375 C56.32,369.58 57.42,366 58.5,361 C59.58,356 60.42,350.17 61.5,345 C62.58,339.83 63.78,334.83 65,330 C66.22,325.17 67.53,319.42 68.8,316 C70.07,312.58 70.95,311.5 72.6,309.5 C74.25,307.5 77.03,304.5 78.7,304 C80.37,303.5 81.22,305.53 82.6,306.5 C83.98,307.47 85.72,308.38 87,309.8 C88.28,311.22 89.22,312.97 90.3,315 C91.38,317.03 92.52,319.5 93.5,322 C94.48,324.5 95.13,325.98 96.2,330 C97.27,334.02 98.67,340.72 99.9,346.1 C101.13,351.48 102.37,356.72 103.6,362.3 C104.83,367.88 106.05,374.23 107.3,379.6 C108.55,384.97 109.85,389.95 111.1,394.5 C112.35,399.05 113.82,404.18 114.8,406.9 C115.78,409.62 116.18,410.38 117,410.8 C117.82,411.22 118.62,411.9 119.7,409.4 C120.78,406.9 122.25,400.77 123.5,395.8 C124.75,390.83 125.97,385.4 127.2,379.6 C128.43,373.8 129.77,367.2 130.9,361 C132.03,354.8 133.02,347.9 134,342.4 C134.98,336.9 135.9,332.73 136.8,328 C137.7,323.27 138.53,317.68 139.4,314 C140.27,310.32 141.2,308.48 142,305.9 C142.8,303.32 143.47,300.02 144.2,298.5 C144.93,296.98 145.38,297.38 146.4,296.8 C147.42,296.22 149,294.88 150.3,295 C151.6,295.12 152.92,296.23 154.2,297.5 C155.48,298.77 156.7,299.9 158,302.6 C159.3,305.3 160.6,309.65 162,313.7 C163.4,317.75 164.93,322.13 166.4,326.9 C167.87,331.67 169.33,336.8 170.8,342.3 C172.27,347.8 173.7,354.57 175.2,359.9 C176.7,365.23 178.48,369.52 179.8,374.3 C181.12,379.08 182.03,384.15 183.1,388.6 C184.17,393.05 185.22,397.1 186.2,401 C187.18,404.9 188.03,408.25 189,412 C189.97,415.75 190.95,420 192,423.5 C193.05,427 194.2,430.25 195.3,433 C196.4,435.75 197.23,437.73 198.6,440 C199.97,442.27 201.3,444.47 203.5,446.6 C205.7,448.73 208.35,451.37 211.8,452.8 C215.25,454.23 219.5,454.67 224.2,455.2 C228.9,455.73 221.48,455.87 240,456 C258.52,456.13 319.42,456 335.3,456" fill="none" stroke="#0000ff" stroke-width="2.8" stroke-linecap="butt" stroke-linejoin="round"/>
<path d="M46.5,456 C62.38,456 123.28,456.13 141.8,456 C160.32,455.87 152.9,455.73 157.6,455.2 C162.3,454.67 166.55,454.23 170,452.8 C173.45,451.37 176.1,448.73 178.3,446.6 C180.5,444.47 181.83,442.27 183.2,440 C184.57,437.73 185.4,435.75 186.5,433 C187.6,430.25 188.75,427 189.8,423.5 C190.85,420 191.83,415.75 192.8,412 C193.77,408.25 194.62,404.9 195.6,401 C196.58,397.1 197.63,393.05 198.7,388.6 C199.77,384.15 200.68,379.08 202,374.3 C203.32,369.52 205.1,365.23 206.6,359.9 C208.1,354.57 209.53,347.8 211,342.3 C212.47,336.8 213.93,331.67 215.4,326.9 C216.87,322.13 218.4,317.75 219.8,313.7 C221.2,309.65 222.5,305.3 223.8,302.6 C225.1,299.9 226.32,298.77 227.6,297.5 C228.88,296.23 230.2,295.12 231.5,295 C232.8,294.88 234.38,296.22 235.4,296.8 C236.42,297.38 236.87,296.98 237.6,298.5 C238.33,300.02 239,303.32 239.8,305.9 C240.6,308.48 241.53,310.32 242.4,314 C243.27,317.68 244.1,323.27 245,328 C245.9,332.73 246.82,336.9 247.8,342.4 C248.78,347.9 249.77,354.8 250.9,361 C252.03,367.2 253.37,373.8 254.6,379.6 C255.83,385.4 257.05,390.83 258.3,395.8 C259.55,400.77 261.02,406.9 262.1,409.4 C263.18,411.9 263.98,411.22 264.8,410.8 C265.62,410.38 266.02,409.62 267,406.9 C267.98,404.18 269.45,399.05 270.7,394.5 C271.95,389.95 273.25,384.97 274.5,379.6 C275.75,374.23 276.97,367.88 278.2,362.3 C279.43,356.72 280.67,351.48 281.9,346.1 C283.13,340.72 284.53,334.02 285.6,330 C286.67,325.98 287.32,324.5 288.3,322 C289.28,319.5 290.42,317.03 291.5,315 C292.58,312.97 293.52,311.22 294.8,309.8 C296.08,308.38 297.82,307.47 299.2,306.5 C300.58,305.53 301.43,303.5 303.1,304 C304.77,304.5 307.55,307.5 309.2,309.5 C310.85,311.5 311.73,312.58 313,316 C314.27,319.42 315.58,325.17 316.8,330 C318.02,334.83 319.22,339.83 320.3,345 C321.38,350.17 322.22,356 323.3,361 C324.38,366 325.48,369.58 326.8,375 C328.12,380.42 329.82,387.92 331.2,393.5 C332.58,399.08 334.45,406 335.1,408.5" fill="none" stroke="#ff0000" stroke-width="2.8" stroke-linecap="butt" stroke-linejoin="round"/>
<path d="M46.5,456 C62.38,456 123.28,456.1 141.8,456 C160.32,455.9 152.9,455.9 157.6,455.4 C162.3,454.9 166.55,454.4 170,453 C173.45,451.6 176.1,449.08 178.3,447 C180.5,444.92 181.83,442.75 183.2,440.5 C184.57,438.25 185.4,436.25 186.5,433.5 C187.6,430.75 188.75,427.5 189.8,424 C190.85,420.5 191.83,416.25 192.8,412.5 C193.77,408.75 194.62,405.42 195.6,401.5 C196.58,397.58 197.63,393.42 198.7,389 C199.77,384.58 200.68,379.75 202,375 C203.32,370.25 205.1,365.83 206.6,360.5 C208.1,355.17 209.53,348.5 211,343 C212.47,337.5 213.93,332.33 215.4,327.5 C216.87,322.67 218.4,318.08 219.8,314 C221.2,309.92 222.5,305.67 223.8,303 C225.1,300.33 226.35,299.17 227.6,298 C228.85,296.83 230.28,295.97 231.3,296 C232.32,296.03 232.87,297.47 233.7,298.2 C234.53,298.93 235.55,299.3 236.3,300.4 C237.05,301.5 237.52,302.58 238.2,304.8 C238.88,307.02 239.57,309.65 240.4,313.7 C241.23,317.75 242.18,323.6 243.2,329.1 C244.22,334.6 245.32,340.72 246.5,346.7 C247.68,352.68 249.12,359.45 250.3,365 C251.48,370.55 252.43,375.17 253.6,380 C254.77,384.83 256.02,389.58 257.3,394 C258.58,398.42 260.13,403.93 261.3,406.5 C262.47,409.07 263.55,409.33 264.3,409.4 C265.05,409.47 265.03,408.77 265.8,406.9 C266.57,405.03 267.97,401.72 268.9,398.2 C269.83,394.68 270.68,390.13 271.4,385.8 C272.12,381.47 272.48,376.75 273.2,372.2 C273.92,367.65 274.87,363.05 275.7,358.5 C276.53,353.95 277.37,349.45 278.2,344.9 C279.03,340.35 279.77,335.67 280.7,331.2 C281.63,326.73 282.73,322.22 283.8,318.1 C284.87,313.98 286,309.43 287.1,306.5 C288.2,303.57 289.2,301.97 290.4,300.5 C291.6,299.03 293.07,298.37 294.3,297.7 C295.53,297.03 296.7,296.57 297.8,296.5 C298.9,296.43 299.78,295.73 300.9,297.3 C302.02,298.87 303.17,302.9 304.5,305.9 C305.83,308.9 307.33,311.07 308.9,315.3 C310.47,319.53 312.33,325.88 313.9,331.3 C315.47,336.72 317.02,342.28 318.3,347.8 C319.58,353.32 320.5,358.87 321.6,364.4 C322.7,369.93 323.72,375.12 324.9,381 C326.08,386.88 327.38,394.38 328.7,399.7 C330.02,405.02 331.8,409.42 332.8,412.9 C333.8,416.38 334.38,419.32 334.7,420.6" fill="none" stroke="#ff0000" stroke-width="2.8" stroke-linecap="butt" stroke-linejoin="round" stroke-dasharray="2.5 3.6"/>
</g>
<g clip-path="url(#cD)">
<path d="M446.1,451.1 C446.73,450.45 448.53,448.77 449.9,447.2 C451.27,445.63 452.83,443.9 454.3,441.7 C455.77,439.5 457.5,436.57 458.7,434 C459.9,431.43 460.67,429.05 461.5,426.3 C462.33,423.55 462.97,420.63 463.7,417.5 C464.43,414.37 465.17,411 465.9,407.5 C466.63,404 467.45,399.98 468.1,396.5 C468.75,393.02 469.22,389.85 469.8,386.6 C470.38,383.35 470.6,381.78 471.6,377 C472.6,372.22 474.42,364.3 475.8,357.9 C477.18,351.5 478.63,344.12 479.9,338.6 C481.17,333.08 482.25,328.48 483.4,324.8 C484.55,321.12 485.77,318.33 486.8,316.5 C487.83,314.67 488.33,314.02 489.6,313.8 C490.87,313.58 493.02,314.28 494.4,315.2 C495.78,316.12 496.63,317.47 497.9,319.3 C499.17,321.13 500.63,323.9 502,326.2 C503.37,328.5 504.73,331.45 506.1,333.1 C507.47,334.75 508.82,335.23 510.2,336.1 C511.58,336.97 513.02,338.23 514.4,338.3 C515.78,338.37 516.9,337.03 518.5,336.5 C520.1,335.97 522.28,335.17 524,335.1 C525.72,335.03 527.55,335.53 528.8,336.1 C530.05,336.67 530.57,337.33 531.5,338.5 C532.43,339.67 533.37,340.87 534.4,343.1 C535.43,345.33 536.6,348.78 537.7,351.9 C538.8,355.02 539.98,358.5 541,361.8 C542.02,365.1 542.97,368.4 543.8,371.7 C544.63,375 545.4,376.88 546,381.6 C546.6,386.32 546.75,395.55 547.4,400 C548.05,404.45 549.07,405.55 549.9,408.3 C550.73,411.05 551.57,413.75 552.4,416.5 C553.23,419.25 553.93,422.03 554.9,424.8 C555.87,427.57 556.97,430.35 558.2,433.1 C559.43,435.85 560.78,438.83 562.3,441.3 C563.82,443.77 565.5,446.1 567.3,447.9 C569.1,449.7 571.18,451.07 573.1,452.1 C575.02,453.13 576.88,453.62 578.8,454.1 C580.72,454.58 582.4,454.72 584.6,455 C586.8,455.28 567.02,455.63 592,455.8 C616.98,455.97 710.75,455.97 734.5,456" fill="none" stroke="#0000ff" stroke-width="2.8" stroke-linecap="butt" stroke-linejoin="round"/>
<path d="M445.8,455 C446.22,454.8 447.15,454.55 448.3,453.8 C449.45,453.05 451.15,451.87 452.7,450.5 C454.25,449.13 456.13,447.33 457.6,445.6 C459.07,443.87 460.4,442.03 461.5,440.1 C462.6,438.17 463.38,436.12 464.2,434 C465.02,431.88 465.75,429.6 466.4,427.4 C467.05,425.2 467.53,423.18 468.1,420.8 C468.67,418.42 469.25,415.32 469.8,413.1 C470.35,410.88 470.95,409.53 471.4,407.5 C471.85,405.47 472.13,403.1 472.5,400.9 C472.87,398.7 473.13,396.5 473.6,394.3 C474.07,392.1 474.83,389.9 475.3,387.7 C475.77,385.5 475.63,385.85 476.4,381.1 C477.17,376.35 478.62,366.07 479.9,359.2 C481.18,352.33 482.83,344.72 484.1,339.9 C485.37,335.08 486.13,332.7 487.5,330.3 C488.87,327.9 490.8,326.65 492.3,325.5 C493.8,324.35 495.12,323.07 496.5,323.4 C497.88,323.73 499.23,326 500.6,327.5 C501.97,329 503.32,331.02 504.7,332.4 C506.08,333.78 507.28,335.12 508.9,335.8 C510.52,336.48 512.57,337.3 514.4,336.5 C516.23,335.7 518.07,332.83 519.9,331 C521.73,329.17 523.57,326.18 525.4,325.5 C527.23,324.82 529.22,326 530.9,326.9 C532.58,327.8 534.27,329.13 535.5,330.9 C536.73,332.67 537.47,335.28 538.3,337.5 C539.13,339.72 539.87,341.98 540.5,344.2 C541.13,346.42 541.55,348.6 542.1,350.8 C542.65,353 543.25,355.2 543.8,357.4 C544.35,359.6 544.95,361.8 545.4,364 C545.85,366.2 546.03,368.4 546.5,370.6 C546.97,372.8 547.73,375 548.2,377.2 C548.67,379.4 548.93,381.67 549.3,383.8 C549.67,385.93 549.88,386.75 550.4,390 C550.92,393.25 551.72,399.98 552.4,403.3 C553.08,406.62 553.88,407.7 554.5,409.9 C555.12,412.1 555.55,414.3 556.1,416.5 C556.65,418.7 557.18,421.03 557.8,423.1 C558.42,425.17 559.18,426.83 559.8,428.9 C560.42,430.97 560.8,433.43 561.5,435.5 C562.2,437.57 563.03,439.37 564,441.3 C564.97,443.23 565.93,445.45 567.3,447.1 C568.67,448.75 570.42,450.1 572.2,451.2 C573.98,452.3 575.87,453.03 578,453.7 C580.13,454.37 582.5,454.83 585,455.2 C587.5,455.57 568.08,455.77 593,455.9 C617.92,456.03 710.92,455.98 734.5,456" fill="none" stroke="#0000ff" stroke-width="2.8" stroke-linecap="butt" stroke-linejoin="round" stroke-dasharray="2.5 3.6"/>
<path d="M445.6,456 C453.83,455.97 484.43,456.05 495,455.8 C505.57,455.55 505.18,454.93 509,454.5 C512.82,454.07 515.52,453.87 517.9,453.2 C520.28,452.53 521.52,451.7 523.3,450.5 C525.08,449.3 526.97,447.78 528.6,446 C530.23,444.22 531.75,442.03 533.1,439.8 C534.45,437.57 535.65,435.15 536.7,432.6 C537.75,430.05 538.5,427.48 539.4,424.5 C540.3,421.52 541.28,418.12 542.1,414.7 C542.92,411.28 543.68,407.2 544.3,404 C544.92,400.8 545.43,398.33 545.8,395.5 C546.17,392.67 546.02,390.23 546.5,387 C546.98,383.77 547.87,380.3 548.7,376.1 C549.53,371.9 550.58,366.38 551.5,361.8 C552.42,357.22 553.28,352.65 554.2,348.6 C555.12,344.55 556.07,340.63 557,337.5 C557.93,334.37 558.88,331.9 559.8,329.8 C560.72,327.7 561.58,326 562.5,324.9 C563.42,323.8 564.1,323.2 565.3,323.2 C566.5,323.2 568.33,324.17 569.7,324.9 C571.07,325.63 572.22,326.42 573.5,327.6 C574.78,328.78 576.12,330.8 577.4,332 C578.68,333.2 579.92,334.28 581.2,334.8 C582.48,335.32 583.72,335.28 585.1,335.1 C586.48,334.92 588.03,334.48 589.5,333.7 C590.97,332.92 592.4,331.77 593.9,330.4 C595.4,329.03 596.98,326.52 598.5,325.5 C600.02,324.48 601.67,323.95 603,324.3 C604.33,324.65 605.37,325.77 606.5,327.6 C607.63,329.43 608.7,332.35 609.8,335.3 C610.9,338.25 612.08,341.8 613.1,345.3 C614.12,348.8 615.07,352.63 615.9,356.3 C616.73,359.97 617.45,363.63 618.1,367.3 C618.75,370.97 619.27,373.68 619.8,378.3 C620.33,382.92 620.6,390.72 621.3,395 C622,399.28 623.1,401.02 624,404 C624.9,406.98 625.8,409.92 626.7,412.9 C627.6,415.88 628.5,418.92 629.4,421.9 C630.3,424.88 631.05,427.82 632.1,430.8 C633.15,433.78 634.37,437.12 635.7,439.8 C637.03,442.48 638.47,444.97 640.1,446.9 C641.73,448.83 643.85,450.28 645.5,451.4 C647.15,452.52 647.92,453 650,453.6 C652.08,454.2 654.67,454.65 658,455 C661.33,455.35 657.25,455.53 670,455.7 C682.75,455.87 723.75,455.95 734.5,456" fill="none" stroke="#007f00" stroke-width="2.8" stroke-linecap="butt" stroke-linejoin="round"/>
<path d="M445.6,456 C453.83,455.97 484.43,456.05 495,455.8 C505.57,455.55 505.18,454.93 509,454.5 C512.82,454.07 515.52,453.87 517.9,453.2 C520.28,452.53 521.52,451.7 523.3,450.5 C525.08,449.3 526.97,447.78 528.6,446 C530.23,444.22 531.75,442.03 533.1,439.8 C534.45,437.57 535.65,435.15 536.7,432.6 C537.75,430.05 538.5,427.48 539.4,424.5 C540.3,421.52 541.28,418.12 542.1,414.7 C542.92,411.28 543.68,407.2 544.3,404 C544.92,400.8 545.43,398.33 545.8,395.5 C546.17,392.67 546.02,390.23 546.5,387 C546.98,383.77 547.87,380.3 548.7,376.1 C549.53,371.9 550.58,366.38 551.5,361.8 C552.42,357.22 553.28,352.65 554.2,348.6 C555.12,344.55 556.07,340.63 557,337.5 C557.93,334.37 558.88,331.9 559.8,329.8 C560.72,327.7 561.58,326 562.5,324.9 C563.42,323.8 564.1,323.2 565.3,323.2 C566.5,323.2 568.33,324.17 569.7,324.9 C571.07,325.63 572.22,326.42 573.5,327.6 C574.78,328.78 576.12,330.8 577.4,332 C578.68,333.2 579.92,334.28 581.2,334.8 C582.48,335.32 583.72,335.28 585.1,335.1 C586.48,334.92 588.03,334.48 589.5,333.7 C590.97,332.92 592.4,331.77 593.9,330.4 C595.4,329.03 596.98,326.52 598.5,325.5 C600.02,324.48 601.67,323.95 603,324.3 C604.33,324.65 605.37,325.77 606.5,327.6 C607.63,329.43 608.7,332.35 609.8,335.3 C610.9,338.25 612.08,341.8 613.1,345.3 C614.12,348.8 615.07,352.63 615.9,356.3 C616.73,359.97 617.45,363.63 618.1,367.3 C618.75,370.97 619.27,373.68 619.8,378.3 C620.33,382.92 620.6,390.72 621.3,395 C622,399.28 623.1,401.02 624,404 C624.9,406.98 625.8,409.92 626.7,412.9 C627.6,415.88 628.5,418.92 629.4,421.9 C630.3,424.88 631.05,427.82 632.1,430.8 C633.15,433.78 634.37,437.12 635.7,439.8 C637.03,442.48 638.47,444.97 640.1,446.9 C641.73,448.83 643.85,450.28 645.5,451.4 C647.15,452.52 647.92,453 650,453.6 C652.08,454.2 654.67,454.65 658,455 C661.33,455.35 657.25,455.53 670,455.7 C682.75,455.87 723.75,455.95 734.5,456" fill="none" stroke="#007f00" stroke-width="2.8" stroke-linecap="butt" stroke-linejoin="round" stroke-dasharray="2.5 3.6"/>
<path d="M445.6,456 C468.5,455.93 558.93,455.92 583,455.6 C607.07,455.28 587.33,455.1 590,454.1 C592.67,453.1 596.47,451.55 599,449.6 C601.53,447.65 603.27,445.23 605.2,442.4 C607.13,439.57 609.1,436.02 610.6,432.6 C612.1,429.18 613.08,425.48 614.2,421.9 C615.32,418.32 616.42,414.68 617.3,411.1 C618.18,407.52 618.88,403.5 619.5,400.4 C620.12,397.3 620.58,394.72 621,392.5 C621.42,390.28 621.47,389.83 622,387.1 C622.53,384.37 623.28,380.13 624.2,376.1 C625.12,372.07 626.4,366.93 627.5,362.9 C628.6,358.87 629.7,355.2 630.8,351.9 C631.9,348.6 633,345.5 634.1,343.1 C635.2,340.7 636.12,338.88 637.4,337.5 C638.68,336.12 640.33,335.07 641.8,334.8 C643.27,334.53 644.55,335.35 646.2,335.9 C647.85,336.45 650.23,337.52 651.7,338.1 C653.17,338.68 653.73,339.45 655,339.4 C656.27,339.35 657.87,339 659.3,337.8 C660.73,336.6 662.05,334.17 663.6,332.2 C665.15,330.23 667.05,328.17 668.6,326 C670.15,323.83 671.67,320.53 672.9,319.2 C674.13,317.87 674.97,318.32 676,318 C677.03,317.68 677.97,316.38 679.1,317.3 C680.23,318.22 681.55,321.43 682.8,323.5 C684.05,325.57 685.57,327 686.6,329.7 C687.63,332.4 688.18,335.98 689,339.7 C689.82,343.42 690.67,347.67 691.5,352 C692.33,356.33 693.27,361.03 694,365.7 C694.73,370.37 695.32,375.78 695.9,380 C696.48,384.22 696.87,387.33 697.5,391 C698.13,394.67 698.97,398.32 699.7,402 C700.43,405.68 701.08,409.42 701.9,413.1 C702.72,416.78 703.6,420.43 704.6,424.1 C705.6,427.77 706.7,431.8 707.9,435.1 C709.1,438.4 710.42,441.52 711.8,443.9 C713.18,446.28 714.37,447.83 716.2,449.4 C718.03,450.97 720.42,452.38 722.8,453.3 C725.18,454.22 728.57,454.53 730.5,454.9 C732.43,455.27 733.75,455.4 734.4,455.5" fill="none" stroke="#ff0000" stroke-width="2.8" stroke-linecap="butt" stroke-linejoin="round"/>
<path d="M445.6,456 C468,455.95 556.6,455.87 580,455.7 C603.4,455.53 583.88,455.57 586,455 C588.12,454.43 590.53,453.65 592.7,452.3 C594.87,450.95 597.22,448.68 599,446.9 C600.78,445.12 601.92,443.83 603.4,441.6 C604.88,439.37 606.55,436.2 607.9,433.5 C609.25,430.8 610.53,428.08 611.5,425.4 C612.47,422.72 612.95,420.23 613.7,417.4 C614.45,414.57 615.32,411.53 616,408.4 C616.68,405.27 617.27,402 617.8,398.6 C618.33,395.2 618.68,391.38 619.2,388 C619.72,384.62 620.25,382.12 620.9,378.3 C621.55,374.48 622.37,369.5 623.1,365.1 C623.83,360.7 624.48,356.12 625.3,351.9 C626.12,347.68 627,343.12 628,339.8 C629,336.48 630.1,334.3 631.3,332 C632.5,329.7 633.63,327.28 635.2,326 C636.77,324.72 638.87,323.93 640.7,324.3 C642.53,324.67 644.4,326.75 646.2,328.2 C648,329.65 649.83,331.72 651.5,333 C653.17,334.28 654.48,336.13 656.2,335.9 C657.92,335.67 659.95,333.25 661.8,331.6 C663.65,329.95 665.45,327.35 667.3,326 C669.15,324.65 671.03,323.28 672.9,323.5 C674.77,323.72 677.05,325.63 678.5,327.3 C679.95,328.97 680.77,331.43 681.6,333.5 C682.43,335.57 682.88,337.53 683.5,339.7 C684.12,341.87 684.78,344.23 685.3,346.5 C685.82,348.77 686.08,351.13 686.6,353.3 C687.12,355.47 687.88,357.33 688.4,359.5 C688.92,361.67 689.28,364.03 689.7,366.3 C690.12,368.57 690.52,370.82 690.9,373.1 C691.28,375.38 691.65,377.02 692,380 C692.35,382.98 692.45,387.33 693,391 C693.55,394.67 694.47,398.32 695.3,402 C696.13,405.68 697,409.42 698,413.1 C699,416.78 700.1,420.43 701.3,424.1 C702.5,427.77 703.82,431.8 705.2,435.1 C706.58,438.4 707.95,441.33 709.6,443.9 C711.25,446.47 713.08,448.85 715.1,450.5 C717.12,452.15 719.55,453.02 721.7,453.8 C723.85,454.58 725.88,454.88 728,455.2 C730.12,455.52 733.33,455.62 734.4,455.7" fill="none" stroke="#ff0000" stroke-width="2.8" stroke-linecap="butt" stroke-linejoin="round" stroke-dasharray="2.5 3.6"/>
</g>
<g clip-path="url(#cE)">
<path d="M46.8,647.5 L49.5,646.4 L52.3,647.5 L55,644.2 L58.3,644.8 L61.6,643.1 L63.8,639.8 L66.6,636.5 L69.3,637.1 L72.6,629.6 L75.7,626 L78.5,624.7 L81.5,614 L84.8,608.5 L87,605.2 L89.2,596.9 L92.5,598 L94.7,586.4 L98,583.7 L100.7,572.1 L106.8,578.2 L109.6,566.6 L112.6,570.1 L118,562.1 L123.9,566.7 L127.1,573.6 L129.8,561.5 L133.1,575.3 L135.9,582.4 L138.7,586.3 L141.4,596.2 L145.3,597.9 L148,603.9 L150,613.5 L152.5,618.5 L158.6,617.5 L160.2,625.3 L161.3,631.4 L164.1,630.3 L167.4,633.6 L170.1,633.6 L172.9,637.5 L176.2,639.1 L180.1,642.4 L183.4,643.5 L187.2,645.7 L191.6,644.1 L196,646.3 L200.5,645.2 L206,645.2 L211.5,644.1 L216.5,645.7 L221.4,643 L227,641.3 L232.5,645.2 L236.3,642.4 L240.2,645.7 L245.7,642.4 L249.5,643 L253.4,646.3 L256.2,643 L261.1,643.5 L266.5,644.6 L270.5,648 L274.1,645.3 L278.5,645.3 L282.4,646.4 L287.3,643.1 L292.9,643.6 L296.2,646.4 L300,645.3 L304.4,643.1 L307.7,646.9 L311,643.1 L314.9,646.4 L320.4,647.5 L323.7,646.4 L328.1,646.9 L333.4,646.4" fill="none" stroke="#b4b4ff" stroke-width="5.0" stroke-linecap="butt" stroke-linejoin="round" stroke-opacity="0.6"/>
<path d="M46.8,645.3 L49,644.2 L52.8,646.4 L57.2,648.1 L60.5,646.4 L66,645.9 L69.9,643.7 L73.8,645.9 L77.6,644.2 L82.6,645.3 L86.4,642 L90.3,643.7 L94.7,645.3 L99.1,646.4 L102.4,645.3 L106.3,642.6 L111.2,643.1 L116.7,643.7 L120.5,646.4 L124.4,644.6 L128.8,645.2 L133.2,645.7 L137.6,643.5 L140.9,641.9 L144.2,644.6 L147,646.3 L150.9,645.2 L155.3,645.2 L158.6,647.4 L161.3,644.1 L164.1,640.8 L167.4,644.6 L171.8,643.5 L176.2,646.3 L179.5,644.1 L183.4,644.1 L186.7,641.9 L190.5,644.1 L195.3,640.8 L199.4,644.6 L204.9,638 L209.3,635.8 L213.2,630.3 L216.5,632 L220.3,626.4 L223.7,619.8 L227,612.1 L230.3,609.4 L233.4,606.5 L235.6,597.7 L239,596.6 L241.2,583.4 L243.9,581.2 L247.2,585.1 L250,567.5 L252.8,565 L255.8,556 L258.7,574.6 L261.8,566.6 L264.9,566.6 L267.3,552.9 L270.4,567.2 L272.9,569.7 L276,569 L279.1,575.9 L282.8,582 L285.9,589.5 L287.8,598.2 L290.9,604.3 L295,610 L298.4,613.3 L301.1,619.9 L302.8,623.2 L305.5,624.3 L307.2,632 L309.4,636.4 L313.2,637 L316,646.4 L318.7,643.1 L324.8,644.7 L329.2,647.5 L333.4,649.1" fill="none" stroke="#ffb4b4" stroke-width="5.0" stroke-linecap="butt" stroke-linejoin="round" stroke-opacity="0.6"/>
<path d="M46.8,682.8 L51.7,683.4 L55,674.5 L57.8,680.1 L61.6,677.9 L66,676.7 L69.3,677.9 L72.1,674.5 L74.9,677.3 L78.2,675.1 L80.9,676.2 L84.8,674 L90.3,674.5 L94.7,675.1 L98,676.2 L101.3,678.4 L104.6,674.5 L107.4,671.2 L112.3,669 L117.8,675.6 L121.1,670.7 L123.3,669.4 L126.6,673.3 L130.5,666.7 L134.3,663.4 L137.6,661.2 L139.8,658.4 L142,650.7 L144.2,643 L147,634.2 L149.8,626.4 L153.1,620.4 L156.4,617.1 L158.8,614.5 L160.8,605.5 L162,599.5 L164.5,588.5 L167.3,577.5 L170.1,572 L173.9,570.9 L176.7,565.9 L179.4,555.4 L181.6,545.5 L184.6,543.8 L187.5,547 L189.9,542.6 L192.7,537.1 L195.4,549.2 L198.2,538.8 L199.3,543.7 L201.5,561.4 L204.2,558.1 L207,564.7 L210.3,569.1 L213.1,577.9 L215.3,586.7 L217.5,595.5 L219.2,605.5 L222,612.1 L224.8,622 L227,629.8 L230.3,627 L232.5,639.7 L235.8,646.3 L239.1,654 L242.4,660.1 L245.7,663.9 L247.9,667.2 L250.6,665.6 L252.9,672.2 L256.2,669.4 L261.1,671.6 L266.6,673.8 L271,676 L275.8,677.2 L279.1,673.4 L281.8,679.4 L285.1,674.5 L289,673.9 L293.4,672.3 L297.3,675 L301.7,677.8 L306.1,676.1 L311,678.3 L314.9,676.1 L319.3,673.9 L322.1,678.3 L324.8,685.5 L328.1,676.1 L330.9,676.1 L333.4,678.9" fill="none" stroke="#b4ffb4" stroke-width="5.0" stroke-linecap="butt" stroke-linejoin="round" stroke-opacity="0.6"/>
<path d="M46.8,647.5 L49.5,646.4 L52.3,647.5 L55,644.2 L58.3,644.8 L61.6,643.1 L63.8,639.8 L66.6,636.5 L69.3,637.1 L72.6,629.6 L75.7,626 L78.5,624.7 L81.5,614 L84.8,608.5 L87,605.2 L89.2,596.9 L92.5,598 L94.7,586.4 L98,583.7 L100.7,572.1 L106.8,578.2 L109.6,566.6 L112.6,570.1 L118,562.1 L123.9,566.7 L127.1,573.6 L129.8,561.5 L133.1,575.3 L135.9,582.4 L138.7,586.3 L141.4,596.2 L145.3,597.9 L148,603.9 L150,613.5 L152.5,618.5 L158.6,617.5 L160.2,625.3 L161.3,631.4 L164.1,630.3 L167.4,633.6 L170.1,633.6 L172.9,637.5 L176.2,639.1 L180.1,642.4 L183.4,643.5 L187.2,645.7 L191.6,644.1 L196,646.3 L200.5,645.2 L206,645.2 L211.5,644.1 L216.5,645.7 L221.4,643 L227,641.3 L232.5,645.2 L236.3,642.4 L240.2,645.7 L245.7,642.4 L249.5,643 L253.4,646.3 L256.2,643 L261.1,643.5 L266.5,644.6 L270.5,648 L274.1,645.3 L278.5,645.3 L282.4,646.4 L287.3,643.1 L292.9,643.6 L296.2,646.4 L300,645.3 L304.4,643.1 L307.7,646.9 L311,643.1 L314.9,646.4 L320.4,647.5 L323.7,646.4 L328.1,646.9 L333.4,646.4" fill="none" stroke="#0000ff" stroke-width="3.0" stroke-linecap="butt" stroke-linejoin="round"/>
<path d="M46.8,645.3 L49,644.2 L52.8,646.4 L57.2,648.1 L60.5,646.4 L66,645.9 L69.9,643.7 L73.8,645.9 L77.6,644.2 L82.6,645.3 L86.4,642 L90.3,643.7 L94.7,645.3 L99.1,646.4 L102.4,645.3 L106.3,642.6 L111.2,643.1 L116.7,643.7 L120.5,646.4 L124.4,644.6 L128.8,645.2 L133.2,645.7 L137.6,643.5 L140.9,641.9 L144.2,644.6 L147,646.3 L150.9,645.2 L155.3,645.2 L158.6,647.4 L161.3,644.1 L164.1,640.8 L167.4,644.6 L171.8,643.5 L176.2,646.3 L179.5,644.1 L183.4,644.1 L186.7,641.9 L190.5,644.1 L195.3,640.8 L199.4,644.6 L204.9,638 L209.3,635.8 L213.2,630.3 L216.5,632 L220.3,626.4 L223.7,619.8 L227,612.1 L230.3,609.4 L233.4,606.5 L235.6,597.7 L239,596.6 L241.2,583.4 L243.9,581.2 L247.2,585.1 L250,567.5 L252.8,565 L255.8,556 L258.7,574.6 L261.8,566.6 L264.9,566.6 L267.3,552.9 L270.4,567.2 L272.9,569.7 L276,569 L279.1,575.9 L282.8,582 L285.9,589.5 L287.8,598.2 L290.9,604.3 L295,610 L298.4,613.3 L301.1,619.9 L302.8,623.2 L305.5,624.3 L307.2,632 L309.4,636.4 L313.2,637 L316,646.4 L318.7,643.1 L324.8,644.7 L329.2,647.5 L333.4,649.1" fill="none" stroke="#ff0000" stroke-width="3.0" stroke-linecap="butt" stroke-linejoin="round"/>
<path d="M46.8,682.8 L51.7,683.4 L55,674.5 L57.8,680.1 L61.6,677.9 L66,676.7 L69.3,677.9 L72.1,674.5 L74.9,677.3 L78.2,675.1 L80.9,676.2 L84.8,674 L90.3,674.5 L94.7,675.1 L98,676.2 L101.3,678.4 L104.6,674.5 L107.4,671.2 L112.3,669 L117.8,675.6 L121.1,670.7 L123.3,669.4 L126.6,673.3 L130.5,666.7 L134.3,663.4 L137.6,661.2 L139.8,658.4 L142,650.7 L144.2,643 L147,634.2 L149.8,626.4 L153.1,620.4 L156.4,617.1 L158.8,614.5 L160.8,605.5 L162,599.5 L164.5,588.5 L167.3,577.5 L170.1,572 L173.9,570.9 L176.7,565.9 L179.4,555.4 L181.6,545.5 L184.6,543.8 L187.5,547 L189.9,542.6 L192.7,537.1 L195.4,549.2 L198.2,538.8 L199.3,543.7 L201.5,561.4 L204.2,558.1 L207,564.7 L210.3,569.1 L213.1,577.9 L215.3,586.7 L217.5,595.5 L219.2,605.5 L222,612.1 L224.8,622 L227,629.8 L230.3,627 L232.5,639.7 L235.8,646.3 L239.1,654 L242.4,660.1 L245.7,663.9 L247.9,667.2 L250.6,665.6 L252.9,672.2 L256.2,669.4 L261.1,671.6 L266.6,673.8 L271,676 L275.8,677.2 L279.1,673.4 L281.8,679.4 L285.1,674.5 L289,673.9 L293.4,672.3 L297.3,675 L301.7,677.8 L306.1,676.1 L311,678.3 L314.9,676.1 L319.3,673.9 L322.1,678.3 L324.8,685.5 L328.1,676.1 L330.9,676.1 L333.4,678.9" fill="none" stroke="#00ff00" stroke-width="3.0" stroke-linecap="butt" stroke-linejoin="round"/>
</g>
<line x1="46.5" y1="282.6" x2="46.5" y2="456.3" stroke="#474747" stroke-width="1.15"/>
<line x1="45.95" y1="456.3" x2="335.85" y2="456.3" stroke="#474747" stroke-width="1.15"/>
<line x1="46.5" y1="456.3" x2="46.5" y2="453.7" stroke="#474747" stroke-width="1.15"/>
<line x1="190.9" y1="456.3" x2="190.9" y2="453.7" stroke="#474747" stroke-width="1.15"/>
<line x1="335.3" y1="456.3" x2="335.3" y2="453.7" stroke="#474747" stroke-width="1.15"/>
<line x1="46.5" y1="456.3" x2="49.1" y2="456.3" stroke="#474747" stroke-width="1.15"/>
<text x="44.1" y="460.9" font-size="12.6" text-anchor="end" font-weight="normal" fill="#000">0</text>
<line x1="46.5" y1="406.67" x2="49.1" y2="406.67" stroke="#474747" stroke-width="1.15"/>
<text x="44.1" y="411.27" font-size="12.6" text-anchor="end" font-weight="normal" fill="#000">0.1</text>
<line x1="46.5" y1="357.04" x2="49.1" y2="357.04" stroke="#474747" stroke-width="1.15"/>
<text x="44.1" y="361.64" font-size="12.6" text-anchor="end" font-weight="normal" fill="#000">0.2</text>
<line x1="46.5" y1="307.41" x2="49.1" y2="307.41" stroke="#474747" stroke-width="1.15"/>
<text x="44.1" y="312.01" font-size="12.6" text-anchor="end" font-weight="normal" fill="#000">0.3</text>
<text x="46.5" y="471.2" font-size="12.6" text-anchor="middle" font-weight="normal" fill="#000">0.5</text>
<rect x="30.14" y="467.1" width="6.7" height="1.05" fill="#111"/>
<text x="190.9" y="471.2" font-size="12.6" text-anchor="middle" font-weight="normal" fill="#000">0</text>
<text x="335.3" y="471.2" font-size="12.6" text-anchor="middle" font-weight="normal" fill="#000">0.5</text>
<text x="193.2" y="484.3" font-size="14" text-anchor="middle" font-weight="normal" fill="#000">Stimulus s</text>
<text x="13.3" y="366.95" font-size="14" text-anchor="middle" font-weight="normal" fill="#000" transform="rotate(-90 13.3 366.95)">mSSI (bits)</text>
<text x="64.2" y="273.4" font-size="16.5" text-anchor="middle" font-weight="bold" fill="#000">B</text>
<line x1="445.6" y1="280.4" x2="445.6" y2="456" stroke="#474747" stroke-width="1.15"/>
<line x1="445.05" y1="456" x2="735.05" y2="456" stroke="#474747" stroke-width="1.15"/>
<line x1="445.6" y1="456" x2="445.6" y2="453.4" stroke="#474747" stroke-width="1.15"/>
<line x1="590.05" y1="456" x2="590.05" y2="453.4" stroke="#474747" stroke-width="1.15"/>
<line x1="734.5" y1="456" x2="734.5" y2="453.4" stroke="#474747" stroke-width="1.15"/>
<line x1="445.6" y1="456" x2="448.2" y2="456" stroke="#474747" stroke-width="1.15"/>
<text x="443.2" y="460.6" font-size="12.6" text-anchor="end" font-weight="normal" fill="#000">0</text>
<line x1="445.6" y1="412.1" x2="448.2" y2="412.1" stroke="#474747" stroke-width="1.15"/>
<text x="443.2" y="416.7" font-size="12.6" text-anchor="end" font-weight="normal" fill="#000">0.2</text>
<line x1="445.6" y1="368.2" x2="448.2" y2="368.2" stroke="#474747" stroke-width="1.15"/>
<text x="443.2" y="372.8" font-size="12.6" text-anchor="end" font-weight="normal" fill="#000">0.4</text>
<line x1="445.6" y1="324.3" x2="448.2" y2="324.3" stroke="#474747" stroke-width="1.15"/>
<text x="443.2" y="328.9" font-size="12.6" text-anchor="end" font-weight="normal" fill="#000">0.6</text>
<line x1="445.6" y1="280.4" x2="448.2" y2="280.4" stroke="#474747" stroke-width="1.15"/>
<text x="443.2" y="285" font-size="12.6" text-anchor="end" font-weight="normal" fill="#000">0.8</text>
<text x="445.6" y="470.9" font-size="12.6" text-anchor="middle" font-weight="normal" fill="#000">0.5</text>
<rect x="429.24" y="466.8" width="6.7" height="1.05" fill="#111"/>
<text x="590.05" y="470.9" font-size="12.6" text-anchor="middle" font-weight="normal" fill="#000">0</text>
<text x="734.5" y="470.9" font-size="12.6" text-anchor="middle" font-weight="normal" fill="#000">0.5</text>
<text x="592.35" y="484" font-size="14" text-anchor="middle" font-weight="normal" fill="#000">Stimulus s</text>
<text x="419.4" y="365.8" font-size="14" text-anchor="middle" font-weight="normal" fill="#000" transform="rotate(-90 419.4 365.8)">mSSI (bits)</text>
<text x="463.3" y="273.4" font-size="16.5" text-anchor="middle" font-weight="bold" fill="#000">D</text>
<line x1="46.5" y1="519.5" x2="46.5" y2="695.2" stroke="#474747" stroke-width="1.15"/>
<line x1="45.95" y1="695.2" x2="334.15" y2="695.2" stroke="#474747" stroke-width="1.15"/>
<line x1="46.5" y1="695.2" x2="46.5" y2="692.6" stroke="#474747" stroke-width="1.15"/>
<line x1="190.05" y1="695.2" x2="190.05" y2="692.6" stroke="#474747" stroke-width="1.15"/>
<line x1="333.6" y1="695.2" x2="333.6" y2="692.6" stroke="#474747" stroke-width="1.15"/>
<line x1="46.5" y1="695.2" x2="49.1" y2="695.2" stroke="#474747" stroke-width="1.15"/>
<text x="44.1" y="700.3" font-size="12.6" text-anchor="end" font-weight="normal" fill="#000">&#8722;0.02</text>
<line x1="46.5" y1="665.92" x2="49.1" y2="665.92" stroke="#474747" stroke-width="1.15"/>
<text x="44.1" y="671.02" font-size="12.6" text-anchor="end" font-weight="normal" fill="#000">0</text>
<line x1="46.5" y1="636.63" x2="49.1" y2="636.63" stroke="#474747" stroke-width="1.15"/>
<text x="44.1" y="641.73" font-size="12.6" text-anchor="end" font-weight="normal" fill="#000">0.02</text>
<line x1="46.5" y1="607.35" x2="49.1" y2="607.35" stroke="#474747" stroke-width="1.15"/>
<text x="44.1" y="612.45" font-size="12.6" text-anchor="end" font-weight="normal" fill="#000">0.04</text>
<line x1="46.5" y1="578.07" x2="49.1" y2="578.07" stroke="#474747" stroke-width="1.15"/>
<text x="44.1" y="583.17" font-size="12.6" text-anchor="end" font-weight="normal" fill="#000">0.06</text>
<line x1="46.5" y1="548.78" x2="49.1" y2="548.78" stroke="#474747" stroke-width="1.15"/>
<text x="44.1" y="553.88" font-size="12.6" text-anchor="end" font-weight="normal" fill="#000">0.08</text>
<line x1="46.5" y1="519.5" x2="49.1" y2="519.5" stroke="#474747" stroke-width="1.15"/>
<text x="44.1" y="524.6" font-size="12.6" text-anchor="end" font-weight="normal" fill="#000">0.1</text>
<text x="46.5" y="710.5" font-size="12.6" text-anchor="middle" font-weight="normal" fill="#000">0.5</text>
<rect x="30.14" y="706.4" width="6.7" height="1.05" fill="#111"/>
<text x="190.05" y="710.5" font-size="12.6" text-anchor="middle" font-weight="normal" fill="#000">0</text>
<text x="333.6" y="710.5" font-size="12.6" text-anchor="middle" font-weight="normal" fill="#000">0.5</text>
<text x="192.35" y="723.6" font-size="14" text-anchor="middle" font-weight="normal" fill="#000">Stimulus s</text>
<text x="13.3" y="605.85" font-size="14" text-anchor="middle" font-weight="normal" fill="#000" transform="rotate(-90 13.3 605.85)">mSSI (bits)</text>
<text x="64.2" y="515.2" font-size="16.5" text-anchor="middle" font-weight="bold" fill="#000">E</text>
<path d="M46.5,455.9 H158" stroke="#7e1212" stroke-width="2.0"/>
<path d="M224,455.9 H289" stroke="#0c0c82" stroke-width="2.0"/>
<path d="M289,455.9 H335.3" stroke="#0b500b" stroke-width="2.0"/>
<path d="M445.6,455.6 H583" stroke="#7e1212" stroke-width="2.0"/>
<path d="M592,455.6 H652" stroke="#0c0c82" stroke-width="2.0"/>
<path d="M652,455.6 H722" stroke="#0c0c82" stroke-width="2.0"/>
<path d="M652,455.6 H722" stroke="#0b500b" stroke-width="2.0" stroke-dasharray="2.5 3.6"/>
</svg>
</body></html>
